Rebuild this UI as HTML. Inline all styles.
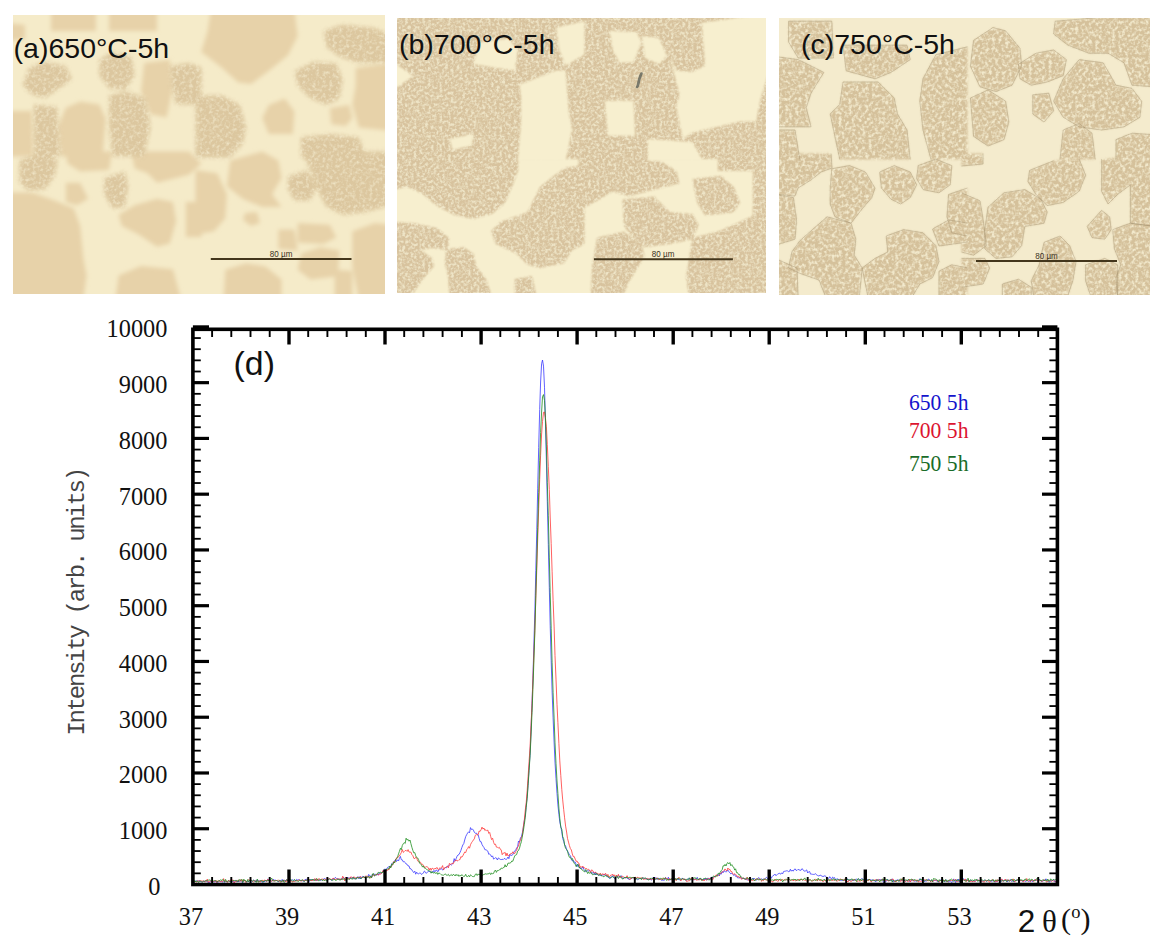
<!DOCTYPE html>
<html><head><meta charset="utf-8"><style>
html,body{margin:0;padding:0;background:#fff}
body{width:1163px;height:947px;position:relative;overflow:hidden}
.ml{position:absolute;font-family:"Liberation Sans",sans-serif;font-size:28.5px;color:#111;white-space:nowrap;line-height:1}
.tl{font-family:"Liberation Serif",serif;font-size:25.5px;fill:#111}
.lg{font-family:"Liberation Serif",serif;font-size:23px}
.yl{font-family:"Liberation Mono",monospace;font-size:24px;fill:#444}
</style></head><body>
<div style="position:absolute;left:13px;top:15px;width:372px;height:279px;background:#f5ebc9;overflow:hidden">
<svg width="372" height="279" style="position:absolute;left:0;top:0">
<defs><filter id="fa" filterUnits="userSpaceOnUse" x="-10" y="-10" width="392" height="299" color-interpolation-filters="sRGB"><feGaussianBlur in="SourceGraphic" stdDeviation="2.0" result="b"/><feTurbulence type="fractalNoise" baseFrequency="0.3" numOctaves="2" seed="2" result="n"/><feColorMatrix in="n" type="matrix" values="0 0 0 0 0.933  0 0 0 0 0.886  0 0 0 0 0.761  2.40 0 0 0 -1.05" result="sp"/><feGaussianBlur in="sp" stdDeviation="0.45" result="spb"/><feComposite in="spb" in2="b" operator="atop"/></filter><filter id="ga" filterUnits="userSpaceOnUse" x="-10" y="-10" width="392" height="299"><feGaussianBlur stdDeviation="2.0"/></filter></defs>
<g filter="url(#ga)">
<polygon points="38.0,-5.0 83.0,-5.0 83.0,16.0 38.0,16.0" fill="#e7d2a9"/>
<polygon points="96.0,-5.0 144.0,-5.0 144.0,16.0 96.0,16.0" fill="#e7d2a9"/>
<polygon points="131.2,48.0 156.8,44.8 160.0,72.0 153.6,102.4 137.6,99.2 128.0,76.8" fill="#e7d2a9"/>
<polygon points="52.8,92.8 67.2,86.4 86.4,89.6 92.8,104.0 89.6,141.5 48.0,141.5 44.8,112.0" fill="#e7d2a9"/>
<polygon points="-5.0,96.0 19.0,96.0 20.0,141.5 -5.0,141.5" fill="#e7d2a9"/>
<polygon points="-5.0,8.0 12.0,10.0 12.0,24.0 -5.0,26.0" fill="#e7d2a9"/>
<polygon points="197.9,-5.0 281.5,-5.0 284.7,20.9 275.0,40.2 257.3,54.7 238.1,69.1 225.2,67.5 209.1,53.1 194.6,41.8 188.2,37.0 194.6,16.1" fill="#e7d2a9"/>
<polygon points="342.6,53.1 377.0,48.2 377.0,115.8 345.8,112.5 339.3,90.0 342.6,70.7" fill="#e7d2a9"/>
<polygon points="255.7,90.0 271.8,83.6 281.5,96.5 279.9,119.0 255.7,119.0 249.3,102.9" fill="#e7d2a9"/>
<polygon points="316.8,93.2 336.1,90.0 339.3,102.9 332.9,110.9 318.4,109.3" fill="#e7d2a9"/>
<polygon points="-5.0,177.4 19.2,177.4 41.6,185.4 60.8,193.4 67.2,211.0 70.4,243.0 73.6,260.6 70.4,284.0 -5.0,284.0" fill="#e7d2a9"/>
<polygon points="52.8,167.8 67.2,167.8 75.2,183.8 64.0,190.2 52.8,187.0" fill="#e7d2a9"/>
<polygon points="52.8,136.5 99.2,136.5 96.0,155.0 67.2,156.6 54.4,148.6" fill="#e7d2a9"/>
<polygon points="118.4,136.5 176.0,136.5 188.5,148.6 176.0,159.8 144.0,167.8 134.4,158.2 121.6,153.4" fill="#e7d2a9"/>
<polygon points="105.6,199.8 121.6,190.2 144.0,183.8 160.0,187.0 163.2,206.2 156.8,228.6 144.0,231.8 124.8,219.0 108.8,211.0" fill="#e7d2a9"/>
<polygon points="172.8,187.0 188.5,187.0 188.5,222.0 172.8,222.0" fill="#e7d2a9"/>
<polygon points="105.6,260.6 128.0,251.0 160.0,254.2 168.0,284.0 102.4,284.0" fill="#e7d2a9"/>
<polygon points="182.5,155.1 204.3,158.3 213.9,179.2 212.3,203.3 201.1,216.2 182.5,219.4" fill="#e7d2a9"/>
<polygon points="217.2,145.4 249.3,136.5 265.4,145.4 268.6,163.1 259.0,179.2 268.6,192.1 249.3,192.1 230.0,184.0 213.9,171.2" fill="#e7d2a9"/>
<polygon points="232.0,198.0 244.0,197.0 247.0,208.0 238.0,211.0 230.0,205.0" fill="#e7d2a9"/>
<polygon points="265.4,214.6 281.5,214.6 284.7,235.5 265.4,233.9" fill="#e7d2a9"/>
<polygon points="284.7,208.1 316.8,209.7 323.3,222.6 310.4,229.0 284.7,227.4" fill="#e7d2a9"/>
<polygon points="339.3,216.2 361.9,208.1 377.0,209.7 377.0,284.0 345.8,284.0 339.3,251.5" fill="#e7d2a9"/>
<polygon points="287.9,238.7 307.2,232.2 326.5,235.5 324.9,261.2 297.5,264.4 284.7,254.8" fill="#e7d2a9"/>
<polygon points="212.3,254.8 233.2,248.3 252.5,251.5 268.6,264.4 268.6,284.0 210.7,284.0" fill="#e7d2a9"/>
<polygon points="321.7,254.8 339.3,256.0 339.3,284.0 321.7,284.0" fill="#e7d2a9"/>
</g>
<g filter="url(#fa)">
<polygon points="16.0,52.8 32.0,46.4 52.8,51.2 59.2,64.0 48.0,72.0 32.0,83.2 19.2,80.0 9.6,70.4" fill="#dcc79f"/>
<polygon points="86.4,44.8 99.2,36.8 118.4,41.6 121.6,60.8 112.0,75.2 96.0,73.6 86.4,60.8" fill="#dcc79f"/>
<polygon points="156.8,51.2 176.0,48.0 188.5,52.8 188.5,89.6 163.2,89.6 158.4,72.0" fill="#dcc79f"/>
<polygon points="96.0,80.0 115.2,76.8 132.8,83.2 137.6,112.0 131.2,141.5 99.2,141.5 96.0,112.0" fill="#dcc79f"/>
<polygon points="20.8,89.6 44.0,92.0 48.0,141.5 20.8,141.5" fill="#dcc79f"/>
<polygon points="281.5,56.3 300.8,46.6 323.3,48.2 329.7,64.3 326.5,83.6 313.6,90.0 297.5,83.6 284.7,70.7" fill="#dcc79f"/>
<polygon points="310.4,16.1 329.7,9.6 361.9,12.9 377.0,19.3 377.0,48.2 345.8,48.2 326.5,41.8 313.6,32.2" fill="#dcc79f"/>
<polygon points="182.5,80.4 209.1,80.4 226.8,90.0 233.2,112.5 230.0,128.6 217.2,142.5 182.5,142.5" fill="#dcc79f"/>
<polygon points="287.9,122.2 316.8,119.0 345.8,122.2 353.8,142.5 287.9,142.5" fill="#dcc79f"/>
<polygon points="6.4,145.4 28.8,136.5 44.8,145.4 41.6,161.4 32.0,174.2 16.0,175.8 6.4,167.8" fill="#dcc79f"/>
<polygon points="91.2,163.0 112.0,156.6 115.2,171.0 112.0,191.8 99.2,193.4 91.2,179.0" fill="#dcc79f"/>
<polygon points="275.0,161.5 294.3,155.1 303.9,171.2 297.5,185.6 281.5,185.6 275.0,174.4" fill="#dcc79f"/>
<polygon points="287.9,136.5 377.0,136.5 377.0,190.4 353.8,196.9 329.7,200.1 313.6,192.1 304.0,174.4 297.5,155.1" fill="#dcc79f"/>
</g>
<g filter="url(#ga)">
</g>

<line x1="197.8" y1="244.0" x2="338.5" y2="244.0" stroke="#43361c" stroke-width="2"/>
<text x="268.1" y="241.8" text-anchor="middle" font-family="Liberation Sans" font-size="9.3" fill="#3a3222" textLength="22.5" lengthAdjust="spacingAndGlyphs">80 µm</text>
</svg>
<div class="ml" style="left:0.6px;top:18.9px">(a)650°C-5h</div>
</div>
<div style="position:absolute;left:397px;top:18px;width:369px;height:275px;background:#f7efcf;overflow:hidden">
<svg width="369" height="275" style="position:absolute;left:0;top:0">
<defs><filter id="fb" filterUnits="userSpaceOnUse" x="-10" y="-10" width="389" height="295" color-interpolation-filters="sRGB"><feGaussianBlur in="SourceGraphic" stdDeviation="1.2" result="b"/><feTurbulence type="fractalNoise" baseFrequency="0.35" numOctaves="2" seed="4" result="n"/><feColorMatrix in="n" type="matrix" values="0 0 0 0 0.933  0 0 0 0 0.894  0 0 0 0 0.776  3.00 0 0 0 -1.20" result="sp"/><feGaussianBlur in="sp" stdDeviation="0.45" result="spb"/><feComposite in="spb" in2="b" operator="atop"/></filter><filter id="gb" filterUnits="userSpaceOnUse" x="-10" y="-10" width="389" height="295"><feGaussianBlur stdDeviation="1.2"/></filter></defs>
<g filter="url(#gb)">
</g>
<g filter="url(#fb)">
<polygon points="-5.0,-5.0 374.0,-5.0 374.0,141.0 -5.0,141.0" fill="#d8c39e"/>
<polygon points="-5.0,134.5 122.0,134.5 121.0,153.0 115.0,169.0 108.0,185.0 95.0,196.0 76.0,201.0 57.0,197.0 40.0,188.0 24.0,175.0 10.0,169.0 -5.0,172.0" fill="#d8c39e"/>
<polygon points="-5.0,204.0 16.0,205.0 40.0,210.0 52.0,220.0 51.0,232.0 35.0,230.0 24.0,232.0 35.0,240.0 37.0,248.0 24.0,264.0 13.0,280.0 -5.0,280.0" fill="#d8c39e"/>
<polygon points="49.3,230.9 66.8,229.3 76.4,235.6 79.5,248.4 89.1,261.1 95.4,280.0 52.5,280.0 50.9,257.9 47.7,245.2" fill="#d8c39e"/>
<polygon points="93.9,213.4 103.4,203.8 130.4,194.3 143.2,168.8 159.1,156.1 168.6,149.7 187.5,146.5 187.5,226.1 175.0,232.5 167.0,245.2 143.2,250.0 130.4,246.8 119.3,235.6 98.6,226.1" fill="#d8c39e"/>
<polygon points="117.7,261.1 135.2,257.9 140.0,280.0 117.7,280.0" fill="#d8c39e"/>
<polygon points="181.5,134.5 250.8,134.5 279.4,152.9 282.6,165.6 255.6,172.0 231.7,178.4 215.8,173.6 196.7,184.7 181.5,192.7" fill="#d8c39e"/>
<polygon points="225.4,181.5 257.2,178.4 273.1,194.3 295.4,195.9 301.7,207.0 295.4,221.3 273.1,226.1 247.6,229.3 236.5,219.7 227.0,208.6" fill="#d8c39e"/>
<polygon points="199.9,219.7 227.0,213.4 244.5,226.1 247.6,238.8 239.7,251.5 231.7,264.3 225.4,280.0 193.5,280.0 195.1,248.4" fill="#d8c39e"/>
<polygon points="295.4,160.9 324.0,157.7 336.7,168.8 343.1,184.7 336.7,194.3 322.4,195.9 308.1,197.5 300.1,184.7" fill="#d8c39e"/>
<polygon points="295.4,219.7 320.8,213.4 343.1,203.8 355.8,197.5 359.0,232.5 362.2,280.0 292.2,280.0 289.0,257.9" fill="#d8c39e"/>
<polygon points="355.8,134.5 374.0,134.5 374.0,280.0 355.8,280.0" fill="#d8c39e"/>
<polygon points="320.8,134.5 355.8,134.5 355.8,153.0 320.8,153.0" fill="#d8c39e"/>
</g>
<g filter="url(#gb)">
<polygon points="-5.0,43.0 16.0,58.0 -5.0,73.0" fill="#f7efcf"/>
<polygon points="76.4,46.1 82.7,23.9 111.4,20.7 120.9,31.8 117.7,52.5 95.4,49.3" fill="#f7efcf"/>
<polygon points="122.5,66.8 159.1,52.5 168.6,52.5 171.8,95.4 175.0,111.4 168.6,143.0 120.9,143.0 124.1,103.4 124.1,79.5" fill="#f7efcf"/>
<polygon points="159.1,9.5 187.5,3.2 187.5,36.6 168.6,47.7 162.3,31.8" fill="#f7efcf"/>
<polygon points="52.5,120.9 76.4,116.1 74.8,127.3 55.7,132.0" fill="#f7efcf"/>
<polygon points="212.6,12.7 239.7,14.3 244.5,23.9 236.5,44.5 222.2,44.5 215.8,31.8" fill="#f7efcf"/>
<polygon points="273.1,39.8 279.4,52.5 295.4,54.1 308.1,47.7 304.9,4.8 374.0,-5.0 374.0,47.7 363.8,79.5 359.0,103.4 343.1,103.4 295.4,114.5 285.8,120.9 279.4,89.1 282.6,76.4" fill="#f7efcf"/>
<polygon points="207.9,82.7 236.5,82.7 238.1,117.7 211.0,117.7" fill="#f7efcf"/>
<polygon points="250.8,120.9 295.4,124.1 306.0,143.0 250.8,143.0" fill="#f7efcf"/>
<polygon points="245.0,18.0 262.0,20.0 270.0,38.0 262.0,46.0 248.0,40.0" fill="#f7efcf"/>
</g>
<path d="M244.5 55.5 Q242 60 241 67.5 L240 69" stroke="#66685e" stroke-width="2.6" stroke-linecap="round" fill="none" opacity="0.85"/>
<line x1="196.9" y1="241.2" x2="335.9" y2="241.2" stroke="#43361c" stroke-width="2"/>
<text x="266.1" y="238.7" text-anchor="middle" font-family="Liberation Sans" font-size="9.3" fill="#3a3222" textLength="22.5" lengthAdjust="spacingAndGlyphs">80 µm</text>
</svg>
<div class="ml" style="left:2.0px;top:12.0px">(b)700°C-5h</div>
</div>
<div style="position:absolute;left:779px;top:18px;width:371px;height:277px;background:#f4ebcd;overflow:hidden">
<svg width="371" height="277" style="position:absolute;left:0;top:0">
<defs><filter id="fc" filterUnits="userSpaceOnUse" x="-10" y="-10" width="391" height="297" color-interpolation-filters="sRGB"><feGaussianBlur in="SourceGraphic" stdDeviation="1.2" result="b"/><feTurbulence type="fractalNoise" baseFrequency="0.3 0.3" numOctaves="2" seed="9" result="n"/><feColorMatrix in="n" type="matrix" values="0 0 0 0 0.949  0 0 0 0 0.914  0 0 0 0 0.800  3.00 0 0 0 -1.25" result="sp"/><feGaussianBlur in="sp" stdDeviation="0.45" result="spb"/><feComposite in="spb" in2="b" operator="atop"/></filter><filter id="gc" filterUnits="userSpaceOnUse" x="-10" y="-10" width="391" height="297"><feGaussianBlur stdDeviation="1.2"/></filter></defs>
<g filter="url(#gc)">
</g>
<g filter="url(#fc)">
<polygon points="9.6,3.2 52.8,3.2 54.4,40.0 19.2,40.0 9.6,24.0" fill="#d5c19b"/>
<polygon points="64.0,27.2 128.0,27.2 131.2,41.6 112.0,54.4 96.0,60.8 67.2,52.8" fill="#d5c19b"/>
<polygon points="-5.0,38.4 19.2,41.6 44.8,54.4 32.0,75.2 27.2,89.6 32.0,108.8 -5.0,108.8" fill="#d5c19b"/>
<polygon points="64.0,64.0 99.2,64.0 115.2,80.0 118.4,96.0 128.0,112.0 131.2,141.5 60.8,141.5 51.2,96.0 60.8,86.4" fill="#d5c19b"/>
<polygon points="156.8,36.8 188.5,28.8 188.5,141.5 152.0,141.5 144.0,112.0 140.8,83.2 144.0,60.8" fill="#d5c19b"/>
<polygon points="-5.0,112.0 16.0,112.0 20.8,141.5 -5.0,141.5" fill="#d5c19b"/>
<polygon points="194.6,22.4 213.8,9.6 226.6,12.8 241.0,30.4 242.6,48.0 233.0,67.2 217.0,73.6 201.0,68.8 191.4,48.0" fill="#d5c19b"/>
<polygon points="239.4,46.4 257.0,35.2 274.6,32.0 287.4,41.6 284.2,57.6 268.2,64.0 252.2,67.2 241.0,60.8" fill="#d5c19b"/>
<polygon points="276.2,3.2 376.0,-5.0 376.0,68.8 353.0,67.2 345.0,44.8 329.0,35.2 309.8,35.2 289.0,27.2 274.6,16.0" fill="#d5c19b"/>
<polygon points="284.2,60.8 300.2,41.6 324.2,44.8 337.0,67.2 353.0,70.4 362.6,83.2 361.0,99.2 345.0,108.8 322.6,112.0 300.2,108.8 284.2,99.2 274.6,83.2" fill="#d5c19b"/>
<polygon points="191.4,80.0 209.0,72.0 226.6,83.2 229.8,104.0 225.0,121.6 209.0,128.0 194.6,118.4" fill="#d5c19b"/>
<polygon points="337.0,121.6 353.0,115.2 376.0,116.8 376.0,141.5 337.0,141.5" fill="#d5c19b"/>
<polygon points="284.2,112.0 300.2,105.6 313.0,115.2 316.2,141.5 281.0,141.5" fill="#d5c19b"/>
<polygon points="253.8,76.8 269.8,75.2 274.6,92.8 265.0,104.0 253.8,96.0" fill="#d5c19b"/>
<polygon points="-5.0,135.5 52.0,135.5 53.0,150.0 42.0,154.0 32.0,162.0 19.0,170.0 16.0,178.0 -5.0,176.0" fill="#d5c19b"/>
<polygon points="52.8,150.8 70.4,147.6 86.4,154.0 96.0,170.0 92.8,179.6 83.2,190.8 72.0,205.2 56.0,198.8 51.2,186.0 51.2,170.0" fill="#d5c19b"/>
<polygon points="-5.0,176.4 14.4,179.6 17.6,202.0 16.0,221.2 -5.0,227.6" fill="#d5c19b"/>
<polygon points="20.8,222.8 48.0,198.8 72.0,205.2 76.8,221.2 75.2,237.2 83.2,250.0 80.0,282.0 48.0,282.0 40.0,262.0 20.0,255.0 9.6,250.0 12.8,234.0" fill="#d5c19b"/>
<polygon points="-5.0,240.0 18.0,250.0 19.2,282.0 -5.0,282.0" fill="#d5c19b"/>
<polygon points="100.8,154.0 115.2,147.6 131.2,154.0 137.6,166.8 131.2,179.6 121.6,186.0 112.0,181.2 102.4,170.0" fill="#d5c19b"/>
<polygon points="139.2,147.6 156.8,141.2 172.8,147.6 171.2,166.8 160.0,174.8 144.0,171.6 137.6,160.4" fill="#d5c19b"/>
<polygon points="169.6,176.4 188.5,170.0 188.5,218.0 172.8,214.8 168.0,198.8" fill="#d5c19b"/>
<polygon points="107.2,218.0 124.8,211.6 144.0,214.8 156.8,227.6 160.0,243.6 153.6,259.6 140.8,266.0 131.2,282.0 89.6,282.0 83.2,250.0 96.0,240.4 108.8,234.0" fill="#d5c19b"/>
<polygon points="160.0,253.2 172.8,246.8 188.5,250.0 188.5,282.0 160.0,282.0" fill="#d5c19b"/>
<polygon points="153.6,211.0 169.6,202.0 188.5,205.0 188.5,224.0 160.0,228.0" fill="#d5c19b"/>
<polygon points="250.6,152.4 274.6,142.8 300.2,141.2 306.6,157.2 300.2,173.2 284.2,184.4 268.2,187.6 257.0,176.4 249.0,163.6" fill="#d5c19b"/>
<polygon points="209.0,189.2 225.0,174.8 245.8,171.6 261.8,181.2 268.2,194.0 265.0,205.2 245.8,208.4 242.6,227.6 233.0,238.8 217.0,240.4 205.8,230.8 205.8,211.6" fill="#d5c19b"/>
<polygon points="182.5,174.8 201.0,182.8 204.2,202.0 207.4,227.6 194.6,237.2 182.5,234.0" fill="#d5c19b"/>
<polygon points="182.5,240.4 205.8,240.4 210.6,250.0 204.2,266.0 182.5,269.2" fill="#d5c19b"/>
<polygon points="322.6,141.2 376.0,135.5 376.0,208.4 351.4,205.2 351.4,166.8 338.6,176.4 329.0,186.0 322.6,173.2" fill="#d5c19b"/>
<polygon points="308.2,208.4 322.6,192.4 330.6,198.8 332.2,211.6 325.8,221.2 313.0,219.6" fill="#d5c19b"/>
<polygon points="333.8,211.6 351.4,205.2 376.0,208.4 376.0,282.0 338.6,282.0 337.0,259.6 341.8,246.8 335.4,230.8" fill="#d5c19b"/>
<polygon points="265.0,224.4 281.0,218.0 290.6,227.6 297.0,243.6 293.8,262.8 287.4,282.0 255.4,282.0 252.2,262.8 260.2,246.8" fill="#d5c19b"/>
<polygon points="306.6,246.8 325.8,240.4 338.6,246.8 338.6,282.0 313.0,282.0 306.6,262.8" fill="#d5c19b"/>
<polygon points="223.4,266.0 239.4,261.2 252.2,269.2 252.2,282.0 223.4,282.0" fill="#d5c19b"/>
<polygon points="182.5,135.5 204.0,135.5 204.0,146.0 182.5,148.0" fill="#d5c19b"/>
</g>
<g filter="url(#gc)">
</g>
<g fill="none" stroke="#9c8866" stroke-width="0.7" stroke-opacity="0.55" stroke-linejoin="round">
<path d="M9.6 3.2L52.8 3.2M52.8 3.2L54.4 40.0M54.4 40.0L19.2 40.0M19.2 40.0L9.6 24.0M9.6 24.0L9.6 3.2M64.0 27.2L128.0 27.2M128.0 27.2L131.2 41.6M131.2 41.6L112.0 54.4M112.0 54.4L96.0 60.8M96.0 60.8L67.2 52.8M67.2 52.8L64.0 27.2M-5.0 38.4L19.2 41.6M19.2 41.6L44.8 54.4M44.8 54.4L32.0 75.2M32.0 75.2L27.2 89.6M27.2 89.6L32.0 108.8M32.0 108.8L-5.0 108.8M64.0 64.0L99.2 64.0M99.2 64.0L115.2 80.0M115.2 80.0L118.4 96.0M118.4 96.0L128.0 112.0M128.0 112.0L131.2 141.5M60.8 141.5L51.2 96.0M51.2 96.0L60.8 86.4M60.8 86.4L64.0 64.0M156.8 36.8L188.5 28.8M152.0 141.5L144.0 112.0M144.0 112.0L140.8 83.2M140.8 83.2L144.0 60.8M144.0 60.8L156.8 36.8M-5.0 112.0L16.0 112.0M16.0 112.0L20.8 141.5M194.6 22.4L213.8 9.6M213.8 9.6L226.6 12.8M226.6 12.8L241.0 30.4M241.0 30.4L242.6 48.0M242.6 48.0L233.0 67.2M233.0 67.2L217.0 73.6M217.0 73.6L201.0 68.8M201.0 68.8L191.4 48.0M191.4 48.0L194.6 22.4M239.4 46.4L257.0 35.2M257.0 35.2L274.6 32.0M274.6 32.0L287.4 41.6M287.4 41.6L284.2 57.6M284.2 57.6L268.2 64.0M268.2 64.0L252.2 67.2M252.2 67.2L241.0 60.8M241.0 60.8L239.4 46.4M276.2 3.2L376.0 -5.0M376.0 68.8L353.0 67.2M353.0 67.2L345.0 44.8M345.0 44.8L329.0 35.2M329.0 35.2L309.8 35.2M309.8 35.2L289.0 27.2M289.0 27.2L274.6 16.0M274.6 16.0L276.2 3.2M284.2 60.8L300.2 41.6M300.2 41.6L324.2 44.8M324.2 44.8L337.0 67.2M337.0 67.2L353.0 70.4M353.0 70.4L362.6 83.2M362.6 83.2L361.0 99.2M361.0 99.2L345.0 108.8M345.0 108.8L322.6 112.0M322.6 112.0L300.2 108.8M300.2 108.8L284.2 99.2M284.2 99.2L274.6 83.2M274.6 83.2L284.2 60.8M191.4 80.0L209.0 72.0M209.0 72.0L226.6 83.2M226.6 83.2L229.8 104.0M229.8 104.0L225.0 121.6M225.0 121.6L209.0 128.0M209.0 128.0L194.6 118.4M194.6 118.4L191.4 80.0M337.0 121.6L353.0 115.2M353.0 115.2L376.0 116.8M337.0 141.5L337.0 121.6M284.2 112.0L300.2 105.6M300.2 105.6L313.0 115.2M313.0 115.2L316.2 141.5M281.0 141.5L284.2 112.0M253.8 76.8L269.8 75.2M269.8 75.2L274.6 92.8M274.6 92.8L265.0 104.0M265.0 104.0L253.8 96.0M253.8 96.0L253.8 76.8M52.0 135.5L53.0 150.0M53.0 150.0L42.0 154.0M42.0 154.0L32.0 162.0M32.0 162.0L19.0 170.0M19.0 170.0L16.0 178.0M16.0 178.0L-5.0 176.0M52.8 150.8L70.4 147.6M70.4 147.6L86.4 154.0M86.4 154.0L96.0 170.0M96.0 170.0L92.8 179.6M92.8 179.6L83.2 190.8M83.2 190.8L72.0 205.2M72.0 205.2L56.0 198.8M56.0 198.8L51.2 186.0M51.2 186.0L51.2 170.0M51.2 170.0L52.8 150.8M-5.0 176.4L14.4 179.6M14.4 179.6L17.6 202.0M17.6 202.0L16.0 221.2M16.0 221.2L-5.0 227.6M20.8 222.8L48.0 198.8M48.0 198.8L72.0 205.2M72.0 205.2L76.8 221.2M76.8 221.2L75.2 237.2M75.2 237.2L83.2 250.0M83.2 250.0L80.0 282.0M48.0 282.0L40.0 262.0M40.0 262.0L20.0 255.0M20.0 255.0L9.6 250.0M9.6 250.0L12.8 234.0M12.8 234.0L20.8 222.8M-5.0 240.0L18.0 250.0M18.0 250.0L19.2 282.0M100.8 154.0L115.2 147.6M115.2 147.6L131.2 154.0M131.2 154.0L137.6 166.8M137.6 166.8L131.2 179.6M131.2 179.6L121.6 186.0M121.6 186.0L112.0 181.2M112.0 181.2L102.4 170.0M102.4 170.0L100.8 154.0M139.2 147.6L156.8 141.2M156.8 141.2L172.8 147.6M172.8 147.6L171.2 166.8M171.2 166.8L160.0 174.8M160.0 174.8L144.0 171.6M144.0 171.6L137.6 160.4M137.6 160.4L139.2 147.6M169.6 176.4L188.5 170.0M188.5 218.0L172.8 214.8M172.8 214.8L168.0 198.8M168.0 198.8L169.6 176.4M107.2 218.0L124.8 211.6M124.8 211.6L144.0 214.8M144.0 214.8L156.8 227.6M156.8 227.6L160.0 243.6M160.0 243.6L153.6 259.6M153.6 259.6L140.8 266.0M140.8 266.0L131.2 282.0M89.6 282.0L83.2 250.0M83.2 250.0L96.0 240.4M96.0 240.4L108.8 234.0M108.8 234.0L107.2 218.0M160.0 253.2L172.8 246.8M172.8 246.8L188.5 250.0M160.0 282.0L160.0 253.2M153.6 211.0L169.6 202.0M169.6 202.0L188.5 205.0M188.5 224.0L160.0 228.0M160.0 228.0L153.6 211.0M250.6 152.4L274.6 142.8M300.2 141.2L306.6 157.2M306.6 157.2L300.2 173.2M300.2 173.2L284.2 184.4M284.2 184.4L268.2 187.6M268.2 187.6L257.0 176.4M257.0 176.4L249.0 163.6M249.0 163.6L250.6 152.4M209.0 189.2L225.0 174.8M225.0 174.8L245.8 171.6M245.8 171.6L261.8 181.2M261.8 181.2L268.2 194.0M268.2 194.0L265.0 205.2M265.0 205.2L245.8 208.4M245.8 208.4L242.6 227.6M242.6 227.6L233.0 238.8M233.0 238.8L217.0 240.4M217.0 240.4L205.8 230.8M205.8 230.8L205.8 211.6M205.8 211.6L209.0 189.2M182.5 174.8L201.0 182.8M201.0 182.8L204.2 202.0M204.2 202.0L207.4 227.6M207.4 227.6L194.6 237.2M194.6 237.2L182.5 234.0M182.5 240.4L205.8 240.4M205.8 240.4L210.6 250.0M210.6 250.0L204.2 266.0M204.2 266.0L182.5 269.2M376.0 208.4L351.4 205.2M351.4 205.2L351.4 166.8M351.4 166.8L338.6 176.4M338.6 176.4L329.0 186.0M329.0 186.0L322.6 173.2M322.6 173.2L322.6 141.2M308.2 208.4L322.6 192.4M322.6 192.4L330.6 198.8M330.6 198.8L332.2 211.6M332.2 211.6L325.8 221.2M325.8 221.2L313.0 219.6M313.0 219.6L308.2 208.4M333.8 211.6L351.4 205.2M351.4 205.2L376.0 208.4M338.6 282.0L337.0 259.6M337.0 259.6L341.8 246.8M341.8 246.8L335.4 230.8M335.4 230.8L333.8 211.6M265.0 224.4L281.0 218.0M281.0 218.0L290.6 227.6M290.6 227.6L297.0 243.6M297.0 243.6L293.8 262.8M293.8 262.8L287.4 282.0M255.4 282.0L252.2 262.8M252.2 262.8L260.2 246.8M260.2 246.8L265.0 224.4M306.6 246.8L325.8 240.4M325.8 240.4L338.6 246.8M338.6 246.8L338.6 282.0M313.0 282.0L306.6 262.8M306.6 262.8L306.6 246.8M223.4 266.0L239.4 261.2M239.4 261.2L252.2 269.2M252.2 269.2L252.2 282.0M223.4 282.0L223.4 266.0M204.0 135.5L204.0 146.0M204.0 146.0L182.5 148.0"/>
</g>

<line x1="197.0" y1="243.1" x2="338.0" y2="243.1" stroke="#43361c" stroke-width="2"/>
<text x="267.5" y="240.5" text-anchor="middle" font-family="Liberation Sans" font-size="9.3" fill="#3a3222" textLength="22.5" lengthAdjust="spacingAndGlyphs">80 µm</text>
</svg>
<div class="ml" style="left:22.0px;top:12.0px">(c)750°C-5h</div>
</div>
<svg width="1163" height="947" style="position:absolute;left:0;top:0">
<path d="M192.9 882.6 193.9 882.7 194.8 881.7 195.8 881.1 196.7 880.8 197.7 881.7 198.7 880.9 199.6 880.6 200.6 881.8 201.5 881.7 202.5 882.0 203.5 880.9 204.4 881.6 205.4 881.5 206.3 880.5 207.3 882.0 208.3 881.8 209.2 883.4 210.2 881.7 211.2 881.5 212.1 882.5 213.1 881.7 214.0 882.2 215.0 881.3 216.0 881.7 216.9 882.3 217.9 882.1 218.8 881.6 219.8 880.7 220.8 881.9 221.7 881.6 222.7 882.0 223.6 881.7 224.6 882.3 225.6 881.5 226.5 881.6 227.5 882.0 228.4 880.7 229.4 881.2 230.4 881.1 231.3 882.9 232.3 881.4 233.2 881.9 234.2 881.9 235.2 881.2 236.1 880.3 237.1 882.1 238.0 881.1 239.0 881.9 240.0 880.4 240.9 881.1 241.9 882.3 242.8 882.4 243.8 880.4 244.8 880.4 245.7 881.3 246.7 881.9 247.7 881.4 248.6 881.5 249.6 880.6 250.5 881.7 251.5 882.1 252.5 880.9 253.4 880.2 254.4 880.7 255.3 881.8 256.3 879.9 257.3 881.2 258.2 880.5 259.2 881.1 260.1 881.0 261.1 881.2 262.1 882.3 263.0 881.5 264.0 882.1 264.9 881.0 265.9 880.7 266.9 881.4 267.8 878.9 268.8 881.0 269.7 881.2 270.7 880.1 271.7 881.4 272.6 880.6 273.6 879.1 274.5 880.8 275.5 880.2 276.5 880.5 277.4 880.8 278.4 881.8 279.3 880.9 280.3 880.8 281.3 881.1 282.2 879.4 283.2 881.7 284.2 879.9 285.1 881.1 286.1 879.9 287.0 880.0 288.0 880.4 289.0 882.1 289.9 881.2 290.9 880.1 291.8 880.4 292.8 879.7 293.8 880.5 294.7 880.1 295.7 881.0 296.6 879.4 297.6 880.1 298.6 879.7 299.5 879.8 300.5 880.9 301.4 880.4 302.4 880.7 303.4 881.1 304.3 881.1 305.3 879.1 306.2 880.5 307.2 878.7 308.2 880.0 309.1 881.5 310.1 879.8 311.0 879.6 312.0 880.0 313.0 879.9 313.9 879.8 314.9 879.2 315.9 880.6 316.8 880.4 317.8 879.5 318.7 879.9 319.7 880.1 320.7 880.3 321.6 879.8 322.6 880.0 323.5 879.2 324.5 878.5 325.5 878.9 326.4 880.1 327.4 880.0 328.3 879.3 329.3 878.7 330.3 879.3 331.2 880.3 332.2 880.0 333.1 878.4 334.1 878.8 335.1 877.6 336.0 877.8 337.0 878.8 337.9 878.7 338.9 879.4 339.9 879.5 340.8 879.1 341.8 879.5 342.7 877.9 343.7 877.4 344.7 878.6 345.6 880.4 346.6 878.4 347.5 877.1 348.5 878.2 349.5 879.1 350.4 877.0 351.4 878.5 352.4 877.3 353.3 878.8 354.3 878.3 355.2 877.8 356.2 879.2 357.2 877.1 358.1 876.8 359.1 878.9 360.0 876.5 361.0 879.0 362.0 877.1 362.9 876.2 363.9 876.9 364.8 877.0 365.8 876.9 366.8 876.5 367.7 877.4 368.7 874.4 369.6 875.8 370.6 875.9 371.6 877.4 372.5 874.0 373.5 875.2 374.4 874.2 375.4 874.3 376.4 875.1 377.3 874.5 378.3 875.0 379.2 872.8 380.2 873.1 381.2 873.3 382.1 872.5 383.1 870.7 384.1 871.4 385.0 868.8 386.0 870.5 386.9 868.2 387.9 867.2 388.9 866.7 389.8 866.4 390.8 866.5 391.7 863.8 392.7 862.8 393.7 863.1 394.6 860.9 395.6 859.5 396.5 861.5 397.5 859.8 398.5 861.0 399.4 858.5 400.4 856.4 401.3 859.7 402.3 859.8 403.3 861.9 404.2 861.6 405.2 862.5 406.1 864.0 407.1 864.3 408.1 866.0 409.0 865.9 410.0 868.9 410.9 868.7 411.9 869.9 412.9 871.7 413.8 872.5 414.8 871.2 415.7 874.2 416.7 872.2 417.7 873.6 418.6 873.8 419.6 873.1 420.6 873.1 421.5 874.5 422.5 873.6 423.4 873.1 424.4 871.0 425.4 871.9 426.3 873.4 427.3 872.4 428.2 871.3 429.2 871.4 430.2 871.6 431.1 872.3 432.1 871.9 433.0 872.2 434.0 870.4 435.0 871.8 435.9 870.2 436.9 870.2 437.8 871.8 438.8 870.0 439.8 869.5 440.7 869.1 441.7 868.6 442.6 870.1 443.6 869.5 444.6 868.5 445.5 867.5 446.5 867.8 447.4 866.2 448.4 866.1 449.4 865.4 450.3 864.3 451.3 865.1 452.2 864.3 453.2 862.9 454.2 858.6 455.1 861.2 456.1 858.7 457.1 856.1 458.0 855.0 459.0 854.5 459.9 852.7 460.9 850.4 461.9 847.4 462.8 845.0 463.8 843.5 464.7 840.0 465.7 836.6 466.7 834.6 467.6 833.1 468.6 831.8 469.5 832.8 470.5 827.6 471.5 829.5 472.4 829.0 473.4 830.1 474.3 832.2 475.3 833.3 476.3 833.0 477.2 834.2 478.2 834.9 479.1 838.3 480.1 841.6 481.1 841.7 482.0 844.5 483.0 846.2 483.9 847.4 484.9 849.7 485.9 849.8 486.8 850.3 487.8 851.1 488.8 854.4 489.7 854.0 490.7 854.9 491.6 856.9 492.6 855.9 493.6 859.1 494.5 858.5 495.5 857.7 496.4 858.0 497.4 860.0 498.4 857.9 499.3 858.6 500.3 859.4 501.2 859.6 502.2 859.3 503.2 859.6 504.1 858.6 505.1 858.6 506.0 859.7 507.0 858.7 508.0 857.0 508.9 858.7 509.9 854.2 510.8 855.6 511.8 855.3 512.8 854.7 513.7 852.6 514.7 850.8 515.6 850.4 516.6 848.0 517.6 846.9 518.5 841.0 519.5 842.2 520.4 838.0 521.4 836.7 522.4 832.6 523.3 827.8 524.3 820.8 525.3 815.0 526.2 805.7 527.2 796.3 528.1 783.6 529.1 767.9 530.1 753.7 531.0 731.2 532.0 703.4 532.9 678.8 533.9 644.0 534.9 609.9 535.8 570.7 536.8 529.8 537.7 488.8 538.7 447.5 539.7 409.5 540.6 382.0 541.6 363.8 542.5 360.0 543.5 366.1 544.5 387.2 545.4 420.5 546.4 460.9 547.3 501.4 548.3 544.4 549.3 587.3 550.2 625.3 551.2 660.7 552.1 690.9 553.1 717.9 554.1 742.0 555.0 762.1 556.0 778.5 557.0 793.3 557.9 804.9 558.9 814.3 559.8 821.9 560.8 826.7 561.8 831.7 562.7 838.4 563.7 841.3 564.6 844.6 565.6 846.0 566.6 849.5 567.5 851.2 568.5 852.9 569.4 854.9 570.4 855.6 571.4 858.6 572.3 861.0 573.3 860.3 574.2 862.2 575.2 862.0 576.2 864.7 577.1 866.7 578.1 864.5 579.0 866.2 580.0 868.5 581.0 868.1 581.9 868.5 582.9 867.0 583.8 869.3 584.8 870.7 585.8 871.7 586.7 871.4 587.7 870.6 588.6 870.9 589.6 870.3 590.6 871.3 591.5 873.6 592.5 872.8 593.5 872.0 594.4 874.6 595.4 872.2 596.3 875.0 597.3 873.9 598.3 874.7 599.2 875.2 600.2 875.0 601.1 876.0 602.1 875.1 603.1 875.0 604.0 874.9 605.0 874.4 605.9 875.2 606.9 876.7 607.9 876.8 608.8 877.4 609.8 878.6 610.7 877.0 611.7 877.0 612.7 875.6 613.6 876.6 614.6 878.7 615.5 877.4 616.5 876.9 617.5 877.4 618.4 875.7 619.4 876.6 620.3 876.3 621.3 875.7 622.3 878.2 623.2 878.4 624.2 877.6 625.2 878.1 626.1 877.0 627.1 878.3 628.0 878.6 629.0 879.3 630.0 879.4 630.9 878.5 631.9 878.1 632.8 877.6 633.8 877.8 634.8 878.8 635.7 878.8 636.7 878.5 637.6 879.8 638.6 879.0 639.6 878.6 640.5 878.5 641.5 878.7 642.4 877.9 643.4 877.9 644.4 879.0 645.3 878.3 646.3 878.6 647.2 879.8 648.2 878.7 649.2 880.0 650.1 878.9 651.1 880.2 652.0 879.4 653.0 877.6 654.0 880.0 654.9 878.9 655.9 877.5 656.8 879.2 657.8 879.3 658.8 878.2 659.7 878.7 660.7 879.7 661.7 880.4 662.6 880.2 663.6 880.3 664.5 880.2 665.5 877.4 666.5 878.8 667.4 879.5 668.4 877.2 669.3 880.0 670.3 880.1 671.3 878.8 672.2 879.1 673.2 878.7 674.1 879.4 675.1 879.4 676.1 879.5 677.0 878.7 678.0 879.8 678.9 879.3 679.9 880.3 680.9 879.8 681.8 878.4 682.8 878.4 683.7 879.6 684.7 879.2 685.7 880.0 686.6 880.2 687.6 879.6 688.5 878.3 689.5 878.7 690.5 880.1 691.4 878.8 692.4 880.5 693.3 879.5 694.3 880.0 695.3 878.9 696.2 879.5 697.2 877.3 698.2 879.4 699.1 880.0 700.1 878.9 701.0 878.9 702.0 879.5 703.0 879.6 703.9 878.9 704.9 880.0 705.8 878.1 706.8 880.2 707.8 878.1 708.7 878.4 709.7 880.0 710.6 877.9 711.6 877.2 712.6 878.3 713.5 877.1 714.5 876.5 715.4 876.4 716.4 875.8 717.4 875.1 718.3 874.4 719.3 876.0 720.2 873.4 721.2 874.2 722.2 871.5 723.1 872.8 724.1 870.8 725.0 871.2 726.0 872.2 727.0 871.2 727.9 870.1 728.9 871.8 729.9 872.7 730.8 873.9 731.8 873.1 732.7 874.4 733.7 875.3 734.7 874.5 735.6 876.4 736.6 876.3 737.5 877.8 738.5 877.8 739.5 878.1 740.4 876.6 741.4 878.7 742.3 878.6 743.3 878.3 744.3 878.8 745.2 878.3 746.2 879.5 747.1 879.9 748.1 879.9 749.1 879.0 750.0 880.7 751.0 880.1 751.9 878.6 752.9 879.2 753.9 878.0 754.8 879.2 755.8 879.8 756.7 880.1 757.7 878.7 758.7 877.5 759.6 878.7 760.6 879.8 761.5 878.7 762.5 879.5 763.5 879.0 764.4 879.4 765.4 878.5 766.4 877.3 767.3 878.0 768.3 879.5 769.2 876.7 770.2 875.3 771.2 878.4 772.1 876.7 773.1 875.5 774.0 875.2 775.0 874.1 776.0 875.7 776.9 874.8 777.9 873.8 778.8 873.6 779.8 873.3 780.8 874.2 781.7 872.8 782.7 873.8 783.6 871.5 784.6 871.3 785.6 871.1 786.5 870.8 787.5 870.9 788.4 871.6 789.4 871.5 790.4 869.2 791.3 871.2 792.3 870.0 793.2 871.2 794.2 869.5 795.2 868.9 796.1 870.4 797.1 870.3 798.1 869.3 799.0 869.9 800.0 870.1 800.9 870.4 801.9 868.7 802.9 869.4 803.8 870.8 804.8 871.2 805.7 870.8 806.7 869.9 807.7 873.0 808.6 871.8 809.6 871.5 810.5 874.1 811.5 874.1 812.5 874.3 813.4 874.4 814.4 874.5 815.3 873.5 816.3 874.7 817.3 875.3 818.2 875.8 819.2 876.0 820.1 875.0 821.1 875.6 822.1 876.2 823.0 876.5 824.0 876.2 824.9 875.7 825.9 876.4 826.9 877.9 827.8 877.8 828.8 878.5 829.7 876.7 830.7 878.0 831.7 879.2 832.6 877.1 833.6 877.9 834.6 877.6 835.5 880.0 836.5 879.2 837.4 878.8 838.4 879.5 839.4 879.4 840.3 880.2 841.3 880.5 842.2 880.4 843.2 880.0 844.2 880.4 845.1 880.4 846.1 880.8 847.0 878.5 848.0 880.2 849.0 880.0 849.9 880.1 850.9 879.8 851.8 880.0 852.8 880.5 853.8 880.2 854.7 880.2 855.7 879.3 856.6 879.2 857.6 879.6 858.6 878.8 859.5 879.8 860.5 879.5 861.4 878.8 862.4 878.7 863.4 879.9 864.3 879.8 865.3 881.9 866.2 880.9 867.2 879.7 868.2 879.9 869.1 879.5 870.1 879.7 871.1 880.0 872.0 880.3 873.0 879.8 873.9 880.9 874.9 880.8 875.9 881.8 876.8 879.3 877.8 880.9 878.7 880.1 879.7 879.1 880.7 880.1 881.6 879.1 882.6 880.3 883.5 882.5 884.5 881.4 885.5 881.8 886.4 881.3 887.4 879.2 888.3 880.7 889.3 880.5 890.3 880.7 891.2 879.6 892.2 878.9 893.1 882.0 894.1 881.3 895.1 880.7 896.0 880.1 897.0 880.6 897.9 879.5 898.9 881.2 899.9 880.6 900.8 880.3 901.8 880.1 902.8 880.4 903.7 880.6 904.7 880.2 905.6 881.2 906.6 880.6 907.6 880.4 908.5 879.8 909.5 881.4 910.4 881.5 911.4 881.0 912.4 879.1 913.3 880.2 914.3 881.3 915.2 880.5 916.2 881.5 917.2 880.2 918.1 881.1 919.1 880.9 920.0 878.6 921.0 880.2 922.0 880.3 922.9 880.1 923.9 879.9 924.8 881.8 925.8 880.5 926.8 881.2 927.7 879.5 928.7 879.0 929.6 880.2 930.6 880.9 931.6 880.0 932.5 881.0 933.5 881.2 934.4 880.2 935.4 880.5 936.4 880.0 937.3 881.4 938.3 881.9 939.3 881.0 940.2 880.2 941.2 880.0 942.1 880.4 943.1 881.3 944.1 880.0 945.0 881.7 946.0 879.7 946.9 880.6 947.9 881.6 948.9 882.0 949.8 880.3 950.8 881.2 951.7 882.6 952.7 881.5 953.7 878.9 954.6 880.8 955.6 882.5 956.5 879.7 957.5 881.3 958.5 879.0 959.4 881.9 960.4 880.0 961.3 881.3 962.3 881.3 963.3 878.5 964.2 879.6 965.2 880.9 966.1 879.5 967.1 880.6 968.1 879.9 969.0 881.7 970.0 880.3 971.0 880.0 971.9 881.2 972.9 881.6 973.8 880.6 974.8 880.9 975.8 881.1 976.7 880.3 977.7 879.8 978.6 881.1 979.6 880.4 980.6 879.6 981.5 881.3 982.5 881.0 983.4 880.8 984.4 880.1 985.4 880.5 986.3 881.2 987.3 881.1 988.2 880.1 989.2 880.0 990.2 881.0 991.1 880.9 992.1 881.4 993.0 879.8 994.0 881.4 995.0 882.1 995.9 881.5 996.9 880.8 997.8 881.4 998.8 879.8 999.8 880.4 1000.7 882.3 1001.7 879.5 1002.6 879.9 1003.6 881.4 1004.6 880.2 1005.5 880.3 1006.5 879.9 1007.5 882.0 1008.4 880.3 1009.4 880.5 1010.3 879.4 1011.3 881.4 1012.3 880.8 1013.2 881.1 1014.2 882.0 1015.1 880.9 1016.1 879.9 1017.1 880.0 1018.0 880.8 1019.0 881.8 1019.9 879.9 1020.9 880.6 1021.9 880.7 1022.8 881.3 1023.8 880.1 1024.7 881.0 1025.7 881.4 1026.7 880.8 1027.6 880.7 1028.6 881.3 1029.5 881.2 1030.5 881.8 1031.5 880.0 1032.4 881.7 1033.4 880.6 1034.3 879.9 1035.3 880.4 1036.3 879.9 1037.2 880.7 1038.2 881.6 1039.1 879.1 1040.1 879.9 1041.1 881.4 1042.0 880.6 1043.0 881.4 1044.0 879.8 1044.9 880.8 1045.9 878.8 1046.8 880.2 1047.8 881.4 1048.8 881.8 1049.7 882.1 1050.7 880.8 1051.6 880.2 1052.6 880.6 1053.6 879.4 1054.5 881.9 1055.5 881.7 1056.4 880.2 1057.4 882.3" fill="none" stroke="#3a3aff" stroke-width="1" stroke-opacity="0.8"/>
<path d="M192.9 883.3 193.9 881.1 194.8 881.8 195.8 881.6 196.7 882.2 197.7 880.5 198.7 881.2 199.6 881.0 200.6 880.7 201.5 880.9 202.5 881.1 203.5 881.3 204.4 880.8 205.4 881.8 206.3 881.1 207.3 879.1 208.3 882.4 209.2 881.2 210.2 880.9 211.2 881.7 212.1 881.6 213.1 881.5 214.0 880.8 215.0 881.6 216.0 880.3 216.9 882.5 217.9 880.5 218.8 881.2 219.8 881.4 220.8 881.6 221.7 881.2 222.7 881.7 223.6 878.6 224.6 881.2 225.6 881.1 226.5 880.9 227.5 882.4 228.4 880.5 229.4 881.2 230.4 879.7 231.3 881.4 232.3 880.0 233.2 880.0 234.2 883.0 235.2 881.7 236.1 881.2 237.1 881.3 238.0 880.1 239.0 880.3 240.0 881.5 240.9 879.5 241.9 881.3 242.8 879.8 243.8 881.2 244.8 880.2 245.7 882.4 246.7 881.8 247.7 880.7 248.6 879.6 249.6 880.4 250.5 881.0 251.5 880.3 252.5 881.2 253.4 881.8 254.4 880.9 255.3 880.6 256.3 881.6 257.3 880.7 258.2 881.6 259.2 880.7 260.1 882.2 261.1 880.7 262.1 880.1 263.0 880.9 264.0 880.4 264.9 880.1 265.9 880.7 266.9 881.4 267.8 879.1 268.8 880.8 269.7 880.7 270.7 880.6 271.7 881.4 272.6 879.7 273.6 881.2 274.5 880.5 275.5 880.8 276.5 880.5 277.4 880.4 278.4 880.2 279.3 880.9 280.3 882.2 281.3 881.4 282.2 881.2 283.2 881.0 284.2 880.2 285.1 881.0 286.1 882.1 287.0 879.5 288.0 881.1 289.0 881.2 289.9 880.6 290.9 881.0 291.8 881.5 292.8 882.1 293.8 881.3 294.7 881.6 295.7 880.5 296.6 880.9 297.6 880.4 298.6 880.4 299.5 879.8 300.5 880.7 301.4 881.3 302.4 880.0 303.4 880.3 304.3 880.6 305.3 880.1 306.2 880.8 307.2 880.2 308.2 879.0 309.1 879.1 310.1 880.5 311.0 880.4 312.0 880.7 313.0 880.0 313.9 879.9 314.9 878.5 315.9 880.8 316.8 878.9 317.8 880.5 318.7 878.7 319.7 879.0 320.7 879.7 321.6 879.2 322.6 878.9 323.5 880.1 324.5 879.9 325.5 879.7 326.4 879.0 327.4 878.6 328.3 878.8 329.3 878.8 330.3 879.1 331.2 879.7 332.2 878.9 333.1 878.4 334.1 878.5 335.1 879.9 336.0 879.0 337.0 879.0 337.9 879.0 338.9 879.2 339.9 878.8 340.8 879.6 341.8 879.2 342.7 876.2 343.7 878.3 344.7 880.8 345.6 877.3 346.6 878.4 347.5 879.1 348.5 878.2 349.5 879.2 350.4 877.0 351.4 877.0 352.4 877.8 353.3 877.2 354.3 876.9 355.2 878.2 356.2 877.9 357.2 877.6 358.1 877.1 359.1 877.6 360.0 877.2 361.0 876.6 362.0 877.6 362.9 877.4 363.9 877.0 364.8 877.4 365.8 875.8 366.8 876.5 367.7 876.1 368.7 877.5 369.6 876.7 370.6 877.9 371.6 877.3 372.5 875.5 373.5 874.7 374.4 875.9 375.4 875.0 376.4 874.9 377.3 873.9 378.3 875.1 379.2 874.4 380.2 874.2 381.2 873.8 382.1 872.3 383.1 870.6 384.1 871.8 385.0 870.9 386.0 870.4 386.9 871.0 387.9 869.2 388.9 869.9 389.8 867.7 390.8 867.1 391.7 865.8 392.7 864.9 393.7 861.6 394.6 862.7 395.6 860.3 396.5 857.8 397.5 858.0 398.5 856.4 399.4 856.0 400.4 854.2 401.3 852.6 402.3 849.5 403.3 852.4 404.2 851.6 405.2 850.6 406.1 850.3 407.1 851.4 408.1 849.6 409.0 852.0 410.0 852.2 410.9 852.0 411.9 854.6 412.9 855.7 413.8 858.3 414.8 858.6 415.7 857.2 416.7 857.9 417.7 860.9 418.6 861.8 419.6 862.0 420.6 862.3 421.5 864.4 422.5 864.2 423.4 865.3 424.4 867.3 425.4 867.2 426.3 866.7 427.3 866.7 428.2 867.9 429.2 870.0 430.2 868.1 431.1 870.3 432.1 868.1 433.0 868.7 434.0 869.5 435.0 868.1 435.9 868.8 436.9 867.4 437.8 869.2 438.8 869.5 439.8 867.7 440.7 868.3 441.7 867.5 442.6 865.6 443.6 869.9 444.6 867.6 445.5 867.5 446.5 866.7 447.4 866.2 448.4 867.9 449.4 863.4 450.3 864.4 451.3 863.8 452.2 863.5 453.2 863.8 454.2 861.8 455.1 860.6 456.1 860.1 457.1 860.9 458.0 860.7 459.0 859.7 459.9 859.7 460.9 856.6 461.9 857.2 462.8 855.8 463.8 853.8 464.7 852.0 465.7 852.6 466.7 849.6 467.6 848.7 468.6 846.6 469.5 848.2 470.5 844.7 471.5 842.7 472.4 841.5 473.4 840.0 474.3 838.9 475.3 835.3 476.3 834.5 477.2 835.1 478.2 834.6 479.1 831.0 480.1 831.4 481.1 829.7 482.0 827.1 483.0 829.1 483.9 828.0 484.9 830.5 485.9 829.7 486.8 830.7 487.8 830.1 488.8 833.4 489.7 832.4 490.7 836.6 491.6 839.6 492.6 838.2 493.6 842.3 494.5 844.5 495.5 844.2 496.4 847.1 497.4 847.3 498.4 847.9 499.3 847.3 500.3 849.3 501.2 849.8 502.2 854.7 503.2 853.1 504.1 853.1 505.1 852.3 506.0 855.9 507.0 853.1 508.0 856.0 508.9 855.6 509.9 854.4 510.8 853.4 511.8 853.7 512.8 851.8 513.7 853.3 514.7 853.6 515.6 851.7 516.6 850.6 517.6 847.0 518.5 846.2 519.5 842.2 520.4 839.9 521.4 837.6 522.4 835.2 523.3 826.8 524.3 820.2 525.3 809.9 526.2 802.9 527.2 790.4 528.1 776.6 529.1 761.4 530.1 746.0 531.0 725.7 532.0 705.1 532.9 679.9 533.9 654.1 534.9 628.1 535.8 598.1 536.8 568.1 537.7 539.0 538.7 508.2 539.7 479.4 540.6 455.2 541.6 434.0 542.5 421.6 543.5 412.3 544.5 412.0 545.4 417.6 546.4 426.8 547.3 444.4 548.3 466.6 549.3 489.4 550.2 517.0 551.2 543.6 552.1 571.2 553.1 600.4 554.1 626.1 555.0 655.6 556.0 679.1 557.0 704.5 557.9 722.6 558.9 743.5 559.8 760.9 560.8 775.6 561.8 789.7 562.7 799.9 563.7 809.6 564.6 817.8 565.6 826.1 566.6 832.0 567.5 838.4 568.5 842.1 569.4 845.5 570.4 848.6 571.4 850.0 572.3 853.9 573.3 856.7 574.2 856.5 575.2 859.1 576.2 861.3 577.1 861.1 578.1 863.0 579.0 863.3 580.0 867.0 581.0 866.7 581.9 867.2 582.9 866.1 583.8 868.0 584.8 867.8 585.8 868.8 586.7 868.5 587.7 869.6 588.6 869.2 589.6 870.6 590.6 872.4 591.5 869.9 592.5 870.3 593.5 872.3 594.4 872.8 595.4 872.1 596.3 873.2 597.3 873.4 598.3 873.7 599.2 874.7 600.2 873.1 601.1 874.5 602.1 874.3 603.1 873.7 604.0 875.0 605.0 873.6 605.9 873.6 606.9 876.0 607.9 874.3 608.8 876.9 609.8 876.5 610.7 875.2 611.7 875.1 612.7 874.0 613.6 876.0 614.6 874.8 615.5 877.7 616.5 875.0 617.5 876.6 618.4 874.3 619.4 876.5 620.3 878.0 621.3 876.6 622.3 876.3 623.2 876.7 624.2 877.5 625.2 878.0 626.1 877.2 627.1 875.7 628.0 877.8 629.0 878.4 630.0 879.6 630.9 877.9 631.9 877.9 632.8 877.4 633.8 878.5 634.8 879.4 635.7 877.2 636.7 878.1 637.6 877.3 638.6 877.6 639.6 878.1 640.5 878.7 641.5 877.6 642.4 878.1 643.4 879.5 644.4 878.9 645.3 879.1 646.3 878.9 647.2 878.4 648.2 879.0 649.2 879.1 650.1 878.7 651.1 879.6 652.0 878.8 653.0 879.5 654.0 878.8 654.9 879.4 655.9 878.3 656.8 878.4 657.8 878.0 658.8 879.9 659.7 879.4 660.7 879.2 661.7 879.5 662.6 878.4 663.6 879.2 664.5 878.7 665.5 877.6 666.5 878.9 667.4 878.5 668.4 880.4 669.3 878.6 670.3 878.7 671.3 880.0 672.2 879.3 673.2 878.2 674.1 879.5 675.1 878.7 676.1 880.7 677.0 878.5 678.0 878.8 678.9 877.2 679.9 878.8 680.9 880.9 681.8 879.3 682.8 878.7 683.7 879.7 684.7 879.2 685.7 879.4 686.6 881.5 687.6 881.1 688.5 880.8 689.5 880.8 690.5 878.8 691.4 877.9 692.4 880.1 693.3 879.8 694.3 879.5 695.3 879.4 696.2 880.1 697.2 880.0 698.2 879.7 699.1 879.9 700.1 879.3 701.0 879.2 702.0 880.6 703.0 879.2 703.9 881.0 704.9 879.9 705.8 879.4 706.8 880.2 707.8 878.7 708.7 878.9 709.7 878.6 710.6 878.7 711.6 879.0 712.6 879.9 713.5 878.2 714.5 876.4 715.4 876.1 716.4 874.7 717.4 876.2 718.3 875.6 719.3 874.4 720.2 873.6 721.2 872.9 722.2 872.1 723.1 871.5 724.1 870.5 725.0 868.9 726.0 870.4 727.0 870.7 727.9 868.0 728.9 869.6 729.9 869.3 730.8 871.5 731.8 871.5 732.7 873.8 733.7 874.4 734.7 873.7 735.6 874.5 736.6 875.2 737.5 876.9 738.5 876.2 739.5 877.8 740.4 876.8 741.4 879.2 742.3 879.0 743.3 877.9 744.3 878.5 745.2 879.4 746.2 879.6 747.1 877.2 748.1 879.8 749.1 880.9 750.0 879.3 751.0 878.7 751.9 880.8 752.9 880.0 753.9 880.0 754.8 880.4 755.8 878.9 756.7 879.4 757.7 879.0 758.7 879.0 759.6 879.7 760.6 879.1 761.5 881.3 762.5 880.4 763.5 880.7 764.4 878.7 765.4 879.9 766.4 879.9 767.3 880.2 768.3 880.4 769.2 879.4 770.2 879.3 771.2 880.8 772.1 881.9 773.1 881.7 774.0 879.9 775.0 879.5 776.0 880.3 776.9 880.5 777.9 881.5 778.8 879.9 779.8 879.5 780.8 881.0 781.7 879.6 782.7 879.5 783.6 880.6 784.6 880.0 785.6 879.3 786.5 879.9 787.5 879.8 788.4 880.0 789.4 879.6 790.4 880.6 791.3 879.9 792.3 879.7 793.2 881.0 794.2 879.4 795.2 880.8 796.1 880.7 797.1 880.0 798.1 880.4 799.0 879.0 800.0 880.4 800.9 879.4 801.9 879.5 802.9 880.4 803.8 879.6 804.8 880.3 805.7 880.5 806.7 881.0 807.7 880.5 808.6 881.0 809.6 879.6 810.5 879.9 811.5 880.7 812.5 881.1 813.4 880.6 814.4 879.8 815.3 879.4 816.3 879.5 817.3 881.1 818.2 879.5 819.2 880.0 820.1 880.7 821.1 880.6 822.1 879.7 823.0 881.8 824.0 880.4 824.9 880.5 825.9 880.9 826.9 880.0 827.8 880.8 828.8 880.2 829.7 879.6 830.7 879.5 831.7 880.6 832.6 880.4 833.6 880.2 834.6 879.9 835.5 880.1 836.5 880.9 837.4 881.2 838.4 880.1 839.4 880.5 840.3 878.9 841.3 879.4 842.2 879.8 843.2 879.6 844.2 880.9 845.1 878.7 846.1 880.7 847.0 880.9 848.0 882.1 849.0 880.0 849.9 880.7 850.9 881.5 851.8 881.1 852.8 879.6 853.8 880.1 854.7 879.5 855.7 880.4 856.6 880.9 857.6 881.4 858.6 880.8 859.5 881.1 860.5 881.2 861.4 879.8 862.4 880.9 863.4 881.2 864.3 880.3 865.3 879.7 866.2 880.5 867.2 880.5 868.2 881.0 869.1 879.0 870.1 880.1 871.1 882.0 872.0 881.4 873.0 880.3 873.9 880.2 874.9 880.2 875.9 879.7 876.8 880.1 877.8 880.4 878.7 879.5 879.7 880.4 880.7 880.7 881.6 879.5 882.6 880.1 883.5 879.3 884.5 880.5 885.5 880.6 886.4 880.1 887.4 880.5 888.3 880.9 889.3 881.0 890.3 879.5 891.2 880.2 892.2 879.4 893.1 879.0 894.1 881.3 895.1 881.1 896.0 881.5 897.0 881.1 897.9 880.1 898.9 880.7 899.9 880.1 900.8 881.6 901.8 878.7 902.8 880.8 903.7 880.1 904.7 881.1 905.6 881.5 906.6 880.0 907.6 881.6 908.5 881.4 909.5 879.3 910.4 882.0 911.4 879.6 912.4 879.5 913.3 881.3 914.3 880.0 915.2 880.7 916.2 880.5 917.2 879.8 918.1 881.8 919.1 881.7 920.0 880.6 921.0 881.8 922.0 880.6 922.9 880.8 923.9 880.3 924.8 879.6 925.8 880.3 926.8 879.8 927.7 880.9 928.7 880.7 929.6 880.1 930.6 881.6 931.6 880.9 932.5 882.0 933.5 880.3 934.4 880.3 935.4 880.0 936.4 880.8 937.3 880.5 938.3 880.6 939.3 882.0 940.2 881.2 941.2 880.1 942.1 880.9 943.1 880.4 944.1 880.4 945.0 880.5 946.0 880.7 946.9 881.1 947.9 881.4 948.9 880.7 949.8 880.0 950.8 880.6 951.7 880.5 952.7 880.4 953.7 879.7 954.6 880.5 955.6 879.3 956.5 881.6 957.5 881.2 958.5 881.2 959.4 879.9 960.4 880.8 961.3 881.6 962.3 880.5 963.3 879.8 964.2 880.6 965.2 878.9 966.1 881.4 967.1 881.0 968.1 879.6 969.0 881.2 970.0 881.6 971.0 881.2 971.9 881.2 972.9 881.9 973.8 880.9 974.8 881.8 975.8 880.5 976.7 880.2 977.7 880.5 978.6 879.9 979.6 881.0 980.6 880.2 981.5 881.0 982.5 881.0 983.4 882.0 984.4 882.1 985.4 880.3 986.3 880.6 987.3 880.6 988.2 880.3 989.2 882.1 990.2 881.7 991.1 880.6 992.1 879.7 993.0 880.2 994.0 880.8 995.0 881.9 995.9 879.8 996.9 881.9 997.8 879.6 998.8 881.0 999.8 879.9 1000.7 880.4 1001.7 878.9 1002.6 881.2 1003.6 880.8 1004.6 880.0 1005.5 879.1 1006.5 880.7 1007.5 880.7 1008.4 879.7 1009.4 881.1 1010.3 880.7 1011.3 879.9 1012.3 880.2 1013.2 878.9 1014.2 881.3 1015.1 881.5 1016.1 880.6 1017.1 879.8 1018.0 879.9 1019.0 880.5 1019.9 880.1 1020.9 881.0 1021.9 880.1 1022.8 881.5 1023.8 881.7 1024.7 880.3 1025.7 880.2 1026.7 878.5 1027.6 880.8 1028.6 881.1 1029.5 880.1 1030.5 881.6 1031.5 880.3 1032.4 879.9 1033.4 881.4 1034.3 881.2 1035.3 879.2 1036.3 880.3 1037.2 879.8 1038.2 880.6 1039.1 880.9 1040.1 880.5 1041.1 880.9 1042.0 881.5 1043.0 880.6 1044.0 879.9 1044.9 880.1 1045.9 881.5 1046.8 882.1 1047.8 880.7 1048.8 881.1 1049.7 880.2 1050.7 880.4 1051.6 881.6 1052.6 880.4 1053.6 881.0 1054.5 880.9 1055.5 881.7 1056.4 881.0 1057.4 880.8" fill="none" stroke="#ff3a3a" stroke-width="1" stroke-opacity="0.8"/>
<path d="M192.9 881.3 193.9 882.2 194.8 880.5 195.8 882.0 196.7 881.0 197.7 881.0 198.7 882.6 199.6 881.3 200.6 881.2 201.5 881.8 202.5 882.0 203.5 881.2 204.4 881.6 205.4 880.5 206.3 880.9 207.3 880.8 208.3 880.2 209.2 880.0 210.2 879.9 211.2 881.0 212.1 881.0 213.1 880.9 214.0 881.2 215.0 880.1 216.0 881.1 216.9 881.3 217.9 881.7 218.8 880.5 219.8 880.8 220.8 879.6 221.7 880.7 222.7 879.4 223.6 880.0 224.6 881.9 225.6 879.4 226.5 881.7 227.5 881.3 228.4 880.8 229.4 881.4 230.4 881.5 231.3 881.9 232.3 880.9 233.2 880.6 234.2 880.6 235.2 880.3 236.1 881.0 237.1 880.4 238.0 881.8 239.0 879.6 240.0 880.2 240.9 880.3 241.9 879.4 242.8 882.4 243.8 879.2 244.8 880.8 245.7 880.6 246.7 882.2 247.7 879.5 248.6 881.8 249.6 880.4 250.5 880.8 251.5 880.4 252.5 881.4 253.4 880.1 254.4 880.9 255.3 881.2 256.3 882.3 257.3 879.1 258.2 882.1 259.2 881.6 260.1 880.5 261.1 881.1 262.1 880.5 263.0 882.1 264.0 881.0 264.9 880.7 265.9 880.7 266.9 880.7 267.8 880.7 268.8 880.2 269.7 882.4 270.7 879.4 271.7 878.1 272.6 880.7 273.6 880.7 274.5 881.1 275.5 880.6 276.5 880.6 277.4 881.0 278.4 881.5 279.3 880.4 280.3 880.4 281.3 882.2 282.2 881.1 283.2 879.9 284.2 882.5 285.1 881.3 286.1 880.2 287.0 879.8 288.0 880.9 289.0 880.0 289.9 879.8 290.9 879.6 291.8 880.2 292.8 881.5 293.8 880.3 294.7 879.5 295.7 881.1 296.6 880.6 297.6 881.2 298.6 881.5 299.5 880.4 300.5 880.4 301.4 880.5 302.4 879.6 303.4 881.0 304.3 881.5 305.3 880.6 306.2 880.2 307.2 880.2 308.2 879.8 309.1 879.8 310.1 880.1 311.0 879.7 312.0 880.0 313.0 879.1 313.9 880.6 314.9 880.3 315.9 879.4 316.8 878.5 317.8 880.2 318.7 881.1 319.7 879.6 320.7 879.8 321.6 879.7 322.6 880.6 323.5 879.4 324.5 880.9 325.5 879.8 326.4 880.8 327.4 880.0 328.3 879.8 329.3 878.8 330.3 879.4 331.2 879.7 332.2 880.4 333.1 880.0 334.1 879.2 335.1 880.1 336.0 880.5 337.0 879.6 337.9 879.3 338.9 879.3 339.9 880.2 340.8 879.9 341.8 878.7 342.7 879.7 343.7 879.0 344.7 878.7 345.6 880.2 346.6 879.8 347.5 878.5 348.5 879.1 349.5 879.4 350.4 878.4 351.4 878.7 352.4 879.3 353.3 877.2 354.3 878.8 355.2 879.1 356.2 878.8 357.2 877.2 358.1 878.4 359.1 877.3 360.0 878.4 361.0 878.3 362.0 877.8 362.9 876.9 363.9 876.9 364.8 877.9 365.8 876.3 366.8 877.3 367.7 877.1 368.7 876.3 369.6 878.3 370.6 876.2 371.6 877.7 372.5 873.9 373.5 873.5 374.4 876.0 375.4 875.4 376.4 874.3 377.3 874.2 378.3 872.2 379.2 873.0 380.2 872.2 381.2 872.5 382.1 873.0 383.1 871.8 384.1 871.6 385.0 870.0 386.0 869.7 386.9 869.5 387.9 868.4 388.9 869.1 389.8 866.2 390.8 867.9 391.7 864.1 392.7 864.9 393.7 861.9 394.6 862.9 395.6 859.9 396.5 858.6 397.5 857.2 398.5 853.9 399.4 851.4 400.4 848.3 401.3 849.7 402.3 845.5 403.3 843.7 404.2 842.6 405.2 843.5 406.1 838.2 407.1 840.0 408.1 839.4 409.0 841.2 410.0 840.0 410.9 843.6 411.9 847.3 412.9 850.5 413.8 852.9 414.8 852.6 415.7 855.7 416.7 857.5 417.7 858.0 418.6 859.6 419.6 863.3 420.6 864.0 421.5 864.8 422.5 867.1 423.4 865.9 424.4 868.1 425.4 868.4 426.3 868.9 427.3 870.0 428.2 870.3 429.2 870.8 430.2 871.3 431.1 873.2 432.1 871.5 433.0 873.0 434.0 872.9 435.0 872.4 435.9 873.7 436.9 872.4 437.8 874.4 438.8 872.9 439.8 873.4 440.7 874.3 441.7 874.9 442.6 875.1 443.6 875.2 444.6 874.4 445.5 873.9 446.5 875.3 447.4 875.2 448.4 874.3 449.4 876.0 450.3 875.4 451.3 874.5 452.2 875.8 453.2 874.4 454.2 874.8 455.1 876.0 456.1 874.3 457.1 875.7 458.0 874.6 459.0 876.4 459.9 875.2 460.9 876.0 461.9 874.6 462.8 875.6 463.8 876.7 464.7 876.2 465.7 874.3 466.7 876.6 467.6 876.6 468.6 875.4 469.5 876.9 470.5 874.8 471.5 875.6 472.4 876.5 473.4 876.6 474.3 876.6 475.3 874.4 476.3 873.8 477.2 875.5 478.2 873.9 479.1 874.9 480.1 873.8 481.1 875.7 482.0 875.3 483.0 875.0 483.9 874.4 484.9 874.2 485.9 873.7 486.8 874.2 487.8 873.8 488.8 873.8 489.7 872.8 490.7 874.6 491.6 873.0 492.6 873.7 493.6 873.4 494.5 871.1 495.5 870.0 496.4 872.4 497.4 870.5 498.4 870.5 499.3 869.8 500.3 869.7 501.2 868.0 502.2 868.5 503.2 867.7 504.1 867.5 505.1 864.7 506.0 867.0 507.0 865.9 508.0 863.1 508.9 863.2 509.9 863.1 510.8 862.7 511.8 861.0 512.8 861.3 513.7 858.6 514.7 856.1 515.6 854.9 516.6 854.6 517.6 851.2 518.5 850.5 519.5 848.2 520.4 844.7 521.4 841.6 522.4 836.0 523.3 831.2 524.3 824.5 525.3 817.2 526.2 807.4 527.2 798.3 528.1 785.4 529.1 770.5 530.1 755.4 531.0 736.1 532.0 712.7 532.9 689.5 533.9 660.9 534.9 630.3 535.8 595.5 536.8 559.9 537.7 527.3 538.7 492.5 539.7 460.8 540.6 432.5 541.6 412.0 542.5 396.9 543.5 394.6 544.5 400.4 545.4 417.3 546.4 446.9 547.3 482.7 548.3 515.8 549.3 557.1 550.2 592.6 551.2 628.7 552.1 662.4 553.1 692.7 554.1 718.1 555.0 742.8 556.0 763.4 557.0 781.0 557.9 793.4 558.9 808.1 559.8 818.4 560.8 827.2 561.8 829.3 562.7 836.6 563.7 838.7 564.6 845.1 565.6 848.4 566.6 849.3 567.5 851.1 568.5 855.1 569.4 857.3 570.4 857.4 571.4 859.4 572.3 858.4 573.3 861.4 574.2 863.3 575.2 864.3 576.2 866.6 577.1 864.7 578.1 864.4 579.0 867.7 580.0 867.4 581.0 868.8 581.9 869.8 582.9 870.2 583.8 871.5 584.8 871.8 585.8 869.5 586.7 871.4 587.7 873.6 588.6 871.8 589.6 873.4 590.6 872.7 591.5 872.7 592.5 874.8 593.5 874.6 594.4 873.7 595.4 874.9 596.3 873.2 597.3 873.9 598.3 875.5 599.2 875.0 600.2 874.2 601.1 875.7 602.1 875.7 603.1 876.7 604.0 876.6 605.0 875.7 605.9 875.6 606.9 876.1 607.9 876.1 608.8 877.6 609.8 877.9 610.7 877.8 611.7 877.1 612.7 876.6 613.6 877.7 614.6 876.7 615.5 877.3 616.5 875.8 617.5 876.9 618.4 878.6 619.4 876.6 620.3 876.3 621.3 877.4 622.3 879.0 623.2 878.9 624.2 877.5 625.2 877.4 626.1 877.8 627.1 877.2 628.0 878.0 629.0 877.8 630.0 876.9 630.9 877.7 631.9 878.0 632.8 877.5 633.8 877.4 634.8 879.1 635.7 879.9 636.7 878.2 637.6 878.1 638.6 878.9 639.6 878.3 640.5 877.9 641.5 879.7 642.4 877.8 643.4 878.1 644.4 878.2 645.3 878.0 646.3 878.6 647.2 879.2 648.2 880.0 649.2 879.4 650.1 878.9 651.1 877.9 652.0 878.8 653.0 878.2 654.0 878.9 654.9 879.7 655.9 879.1 656.8 878.8 657.8 878.4 658.8 879.0 659.7 879.1 660.7 878.3 661.7 878.7 662.6 879.8 663.6 877.8 664.5 878.8 665.5 878.2 666.5 880.4 667.4 879.7 668.4 879.6 669.3 879.5 670.3 879.5 671.3 879.5 672.2 878.0 673.2 879.5 674.1 879.7 675.1 878.1 676.1 879.9 677.0 879.8 678.0 878.1 678.9 878.9 679.9 879.1 680.9 878.9 681.8 879.6 682.8 878.3 683.7 879.2 684.7 879.5 685.7 879.9 686.6 879.4 687.6 879.2 688.5 879.9 689.5 877.8 690.5 880.1 691.4 879.1 692.4 878.4 693.3 879.0 694.3 877.9 695.3 877.7 696.2 879.1 697.2 878.7 698.2 879.9 699.1 878.6 700.1 878.3 701.0 878.5 702.0 880.6 703.0 879.2 703.9 878.7 704.9 878.4 705.8 878.2 706.8 878.9 707.8 879.3 708.7 879.8 709.7 879.7 710.6 878.8 711.6 877.9 712.6 877.4 713.5 875.9 714.5 876.5 715.4 877.1 716.4 875.8 717.4 875.6 718.3 873.2 719.3 874.0 720.2 872.3 721.2 870.7 722.2 869.7 723.1 865.8 724.1 866.0 725.0 864.4 726.0 866.0 727.0 863.3 727.9 862.6 728.9 863.9 729.9 862.5 730.8 865.7 731.8 864.6 732.7 866.5 733.7 867.1 734.7 870.1 735.6 868.8 736.6 872.7 737.5 872.6 738.5 874.5 739.5 874.4 740.4 876.4 741.4 877.0 742.3 877.9 743.3 878.2 744.3 878.8 745.2 879.3 746.2 878.4 747.1 878.0 748.1 878.0 749.1 879.7 750.0 878.9 751.0 880.1 751.9 879.4 752.9 878.6 753.9 880.1 754.8 881.0 755.8 879.3 756.7 878.8 757.7 878.9 758.7 880.2 759.6 879.1 760.6 879.3 761.5 880.1 762.5 879.6 763.5 879.7 764.4 879.2 765.4 879.1 766.4 879.8 767.3 879.8 768.3 880.1 769.2 879.3 770.2 880.0 771.2 880.1 772.1 879.8 773.1 880.2 774.0 880.5 775.0 879.9 776.0 879.8 776.9 879.0 777.9 880.0 778.8 879.7 779.8 879.5 780.8 879.1 781.7 880.2 782.7 881.8 783.6 880.1 784.6 879.8 785.6 880.1 786.5 879.3 787.5 879.9 788.4 879.3 789.4 879.3 790.4 880.0 791.3 880.0 792.3 879.7 793.2 879.2 794.2 880.0 795.2 879.0 796.1 880.4 797.1 879.5 798.1 879.8 799.0 880.4 800.0 880.3 800.9 878.8 801.9 879.6 802.9 880.1 803.8 879.0 804.8 877.9 805.7 879.8 806.7 879.8 807.7 880.2 808.6 879.9 809.6 879.9 810.5 880.0 811.5 880.9 812.5 880.2 813.4 880.3 814.4 879.5 815.3 880.7 816.3 879.7 817.3 880.4 818.2 878.2 819.2 880.0 820.1 879.8 821.1 879.5 822.1 880.9 823.0 880.2 824.0 879.7 824.9 879.4 825.9 881.3 826.9 880.5 827.8 880.4 828.8 879.3 829.7 880.9 830.7 880.3 831.7 879.7 832.6 879.8 833.6 878.6 834.6 880.4 835.5 879.0 836.5 880.6 837.4 879.6 838.4 879.4 839.4 880.2 840.3 880.1 841.3 879.0 842.2 879.9 843.2 880.4 844.2 879.7 845.1 878.9 846.1 879.7 847.0 879.2 848.0 879.5 849.0 880.0 849.9 879.9 850.9 879.8 851.8 878.7 852.8 880.2 853.8 879.8 854.7 879.6 855.7 880.1 856.6 881.5 857.6 879.0 858.6 878.7 859.5 880.6 860.5 879.4 861.4 881.0 862.4 879.2 863.4 879.6 864.3 880.6 865.3 880.7 866.2 880.3 867.2 880.3 868.2 879.9 869.1 879.6 870.1 879.8 871.1 881.0 872.0 880.5 873.0 880.0 873.9 880.2 874.9 880.6 875.9 880.9 876.8 879.9 877.8 880.0 878.7 880.3 879.7 882.0 880.7 880.2 881.6 881.0 882.6 878.8 883.5 880.7 884.5 878.9 885.5 879.2 886.4 879.5 887.4 879.9 888.3 880.2 889.3 880.3 890.3 880.2 891.2 879.7 892.2 882.1 893.1 880.4 894.1 880.6 895.1 881.6 896.0 880.8 897.0 880.5 897.9 880.3 898.9 881.5 899.9 879.2 900.8 879.3 901.8 880.2 902.8 878.5 903.7 879.5 904.7 880.9 905.6 879.7 906.6 880.2 907.6 880.6 908.5 879.2 909.5 880.3 910.4 879.6 911.4 879.2 912.4 879.9 913.3 880.1 914.3 879.8 915.2 879.6 916.2 880.8 917.2 881.0 918.1 880.5 919.1 880.0 920.0 879.3 921.0 879.5 922.0 879.3 922.9 880.3 923.9 880.8 924.8 880.8 925.8 880.1 926.8 879.8 927.7 880.3 928.7 880.2 929.6 880.6 930.6 881.3 931.6 879.6 932.5 881.7 933.5 878.5 934.4 878.8 935.4 879.0 936.4 879.4 937.3 880.0 938.3 881.7 939.3 879.6 940.2 881.0 941.2 879.9 942.1 880.3 943.1 879.4 944.1 881.9 945.0 880.1 946.0 879.7 946.9 881.9 947.9 880.3 948.9 880.5 949.8 880.1 950.8 879.5 951.7 879.1 952.7 880.0 953.7 881.4 954.6 880.5 955.6 880.0 956.5 881.0 957.5 879.5 958.5 881.2 959.4 880.2 960.4 879.5 961.3 880.7 962.3 880.6 963.3 879.9 964.2 880.4 965.2 880.9 966.1 881.3 967.1 879.5 968.1 878.2 969.0 881.8 970.0 880.0 971.0 879.9 971.9 880.5 972.9 879.9 973.8 881.0 974.8 879.3 975.8 880.1 976.7 879.2 977.7 881.4 978.6 880.0 979.6 881.1 980.6 881.3 981.5 879.3 982.5 880.1 983.4 880.8 984.4 880.3 985.4 880.1 986.3 880.9 987.3 880.9 988.2 879.8 989.2 880.1 990.2 880.7 991.1 880.4 992.1 880.4 993.0 879.4 994.0 881.6 995.0 880.1 995.9 880.5 996.9 880.2 997.8 880.3 998.8 880.4 999.8 879.6 1000.7 880.5 1001.7 881.2 1002.6 880.6 1003.6 880.8 1004.6 880.6 1005.5 880.3 1006.5 881.7 1007.5 879.7 1008.4 880.6 1009.4 881.1 1010.3 880.5 1011.3 879.5 1012.3 879.4 1013.2 881.5 1014.2 879.5 1015.1 880.3 1016.1 880.7 1017.1 880.4 1018.0 878.9 1019.0 878.8 1019.9 880.2 1020.9 879.7 1021.9 880.1 1022.8 880.4 1023.8 880.4 1024.7 879.3 1025.7 879.0 1026.7 881.0 1027.6 879.8 1028.6 879.4 1029.5 878.8 1030.5 880.7 1031.5 879.3 1032.4 879.5 1033.4 880.8 1034.3 880.5 1035.3 880.7 1036.3 879.3 1037.2 878.1 1038.2 879.6 1039.1 880.1 1040.1 879.8 1041.1 881.0 1042.0 880.6 1043.0 879.5 1044.0 880.8 1044.9 880.2 1045.9 880.0 1046.8 881.2 1047.8 879.0 1048.8 881.1 1049.7 881.2 1050.7 878.8 1051.6 880.2 1052.6 880.2 1053.6 879.5 1054.5 879.9 1055.5 879.7 1056.4 880.4 1057.4 879.9" fill="none" stroke="#1f8f1f" stroke-width="1" stroke-opacity="0.8"/>
<rect x="192.9" y="329.3" width="864.5" height="555.2" fill="none" stroke="#000" stroke-width="3.6"/>
<line x1="212.1" y1="884.5" x2="212.1" y2="877.0" stroke="#000" stroke-width="1.9"/>
<line x1="212.1" y1="329" x2="212.1" y2="337" stroke="#000" stroke-width="1.9"/>
<line x1="231.3" y1="884.5" x2="231.3" y2="877.0" stroke="#000" stroke-width="1.9"/>
<line x1="231.3" y1="329" x2="231.3" y2="337" stroke="#000" stroke-width="1.9"/>
<line x1="250.5" y1="884.5" x2="250.5" y2="877.0" stroke="#000" stroke-width="1.9"/>
<line x1="250.5" y1="329" x2="250.5" y2="337" stroke="#000" stroke-width="1.9"/>
<line x1="269.7" y1="884.5" x2="269.7" y2="877.0" stroke="#000" stroke-width="1.9"/>
<line x1="269.7" y1="329" x2="269.7" y2="337" stroke="#000" stroke-width="1.9"/>
<line x1="289.0" y1="884.5" x2="289.0" y2="869.5" stroke="#000" stroke-width="3.4"/>
<line x1="289.0" y1="329" x2="289.0" y2="344.5" stroke="#000" stroke-width="3.4"/>
<line x1="308.2" y1="884.5" x2="308.2" y2="877.0" stroke="#000" stroke-width="1.9"/>
<line x1="308.2" y1="329" x2="308.2" y2="337" stroke="#000" stroke-width="1.9"/>
<line x1="327.4" y1="884.5" x2="327.4" y2="877.0" stroke="#000" stroke-width="1.9"/>
<line x1="327.4" y1="329" x2="327.4" y2="337" stroke="#000" stroke-width="1.9"/>
<line x1="346.6" y1="884.5" x2="346.6" y2="877.0" stroke="#000" stroke-width="1.9"/>
<line x1="346.6" y1="329" x2="346.6" y2="337" stroke="#000" stroke-width="1.9"/>
<line x1="365.8" y1="884.5" x2="365.8" y2="877.0" stroke="#000" stroke-width="1.9"/>
<line x1="365.8" y1="329" x2="365.8" y2="337" stroke="#000" stroke-width="1.9"/>
<line x1="385.0" y1="884.5" x2="385.0" y2="869.5" stroke="#000" stroke-width="3.4"/>
<line x1="385.0" y1="329" x2="385.0" y2="344.5" stroke="#000" stroke-width="3.4"/>
<line x1="404.2" y1="884.5" x2="404.2" y2="877.0" stroke="#000" stroke-width="1.9"/>
<line x1="404.2" y1="329" x2="404.2" y2="337" stroke="#000" stroke-width="1.9"/>
<line x1="423.4" y1="884.5" x2="423.4" y2="877.0" stroke="#000" stroke-width="1.9"/>
<line x1="423.4" y1="329" x2="423.4" y2="337" stroke="#000" stroke-width="1.9"/>
<line x1="442.6" y1="884.5" x2="442.6" y2="877.0" stroke="#000" stroke-width="1.9"/>
<line x1="442.6" y1="329" x2="442.6" y2="337" stroke="#000" stroke-width="1.9"/>
<line x1="461.9" y1="884.5" x2="461.9" y2="877.0" stroke="#000" stroke-width="1.9"/>
<line x1="461.9" y1="329" x2="461.9" y2="337" stroke="#000" stroke-width="1.9"/>
<line x1="481.1" y1="884.5" x2="481.1" y2="869.5" stroke="#000" stroke-width="3.4"/>
<line x1="481.1" y1="329" x2="481.1" y2="344.5" stroke="#000" stroke-width="3.4"/>
<line x1="500.3" y1="884.5" x2="500.3" y2="877.0" stroke="#000" stroke-width="1.9"/>
<line x1="500.3" y1="329" x2="500.3" y2="337" stroke="#000" stroke-width="1.9"/>
<line x1="519.5" y1="884.5" x2="519.5" y2="877.0" stroke="#000" stroke-width="1.9"/>
<line x1="519.5" y1="329" x2="519.5" y2="337" stroke="#000" stroke-width="1.9"/>
<line x1="538.7" y1="884.5" x2="538.7" y2="877.0" stroke="#000" stroke-width="1.9"/>
<line x1="538.7" y1="329" x2="538.7" y2="337" stroke="#000" stroke-width="1.9"/>
<line x1="557.9" y1="884.5" x2="557.9" y2="877.0" stroke="#000" stroke-width="1.9"/>
<line x1="557.9" y1="329" x2="557.9" y2="337" stroke="#000" stroke-width="1.9"/>
<line x1="577.1" y1="884.5" x2="577.1" y2="869.5" stroke="#000" stroke-width="3.4"/>
<line x1="577.1" y1="329" x2="577.1" y2="344.5" stroke="#000" stroke-width="3.4"/>
<line x1="596.3" y1="884.5" x2="596.3" y2="877.0" stroke="#000" stroke-width="1.9"/>
<line x1="596.3" y1="329" x2="596.3" y2="337" stroke="#000" stroke-width="1.9"/>
<line x1="615.5" y1="884.5" x2="615.5" y2="877.0" stroke="#000" stroke-width="1.9"/>
<line x1="615.5" y1="329" x2="615.5" y2="337" stroke="#000" stroke-width="1.9"/>
<line x1="634.8" y1="884.5" x2="634.8" y2="877.0" stroke="#000" stroke-width="1.9"/>
<line x1="634.8" y1="329" x2="634.8" y2="337" stroke="#000" stroke-width="1.9"/>
<line x1="654.0" y1="884.5" x2="654.0" y2="877.0" stroke="#000" stroke-width="1.9"/>
<line x1="654.0" y1="329" x2="654.0" y2="337" stroke="#000" stroke-width="1.9"/>
<line x1="673.2" y1="884.5" x2="673.2" y2="869.5" stroke="#000" stroke-width="3.4"/>
<line x1="673.2" y1="329" x2="673.2" y2="344.5" stroke="#000" stroke-width="3.4"/>
<line x1="692.4" y1="884.5" x2="692.4" y2="877.0" stroke="#000" stroke-width="1.9"/>
<line x1="692.4" y1="329" x2="692.4" y2="337" stroke="#000" stroke-width="1.9"/>
<line x1="711.6" y1="884.5" x2="711.6" y2="877.0" stroke="#000" stroke-width="1.9"/>
<line x1="711.6" y1="329" x2="711.6" y2="337" stroke="#000" stroke-width="1.9"/>
<line x1="730.8" y1="884.5" x2="730.8" y2="877.0" stroke="#000" stroke-width="1.9"/>
<line x1="730.8" y1="329" x2="730.8" y2="337" stroke="#000" stroke-width="1.9"/>
<line x1="750.0" y1="884.5" x2="750.0" y2="877.0" stroke="#000" stroke-width="1.9"/>
<line x1="750.0" y1="329" x2="750.0" y2="337" stroke="#000" stroke-width="1.9"/>
<line x1="769.2" y1="884.5" x2="769.2" y2="869.5" stroke="#000" stroke-width="3.4"/>
<line x1="769.2" y1="329" x2="769.2" y2="344.5" stroke="#000" stroke-width="3.4"/>
<line x1="788.4" y1="884.5" x2="788.4" y2="877.0" stroke="#000" stroke-width="1.9"/>
<line x1="788.4" y1="329" x2="788.4" y2="337" stroke="#000" stroke-width="1.9"/>
<line x1="807.7" y1="884.5" x2="807.7" y2="877.0" stroke="#000" stroke-width="1.9"/>
<line x1="807.7" y1="329" x2="807.7" y2="337" stroke="#000" stroke-width="1.9"/>
<line x1="826.9" y1="884.5" x2="826.9" y2="877.0" stroke="#000" stroke-width="1.9"/>
<line x1="826.9" y1="329" x2="826.9" y2="337" stroke="#000" stroke-width="1.9"/>
<line x1="846.1" y1="884.5" x2="846.1" y2="877.0" stroke="#000" stroke-width="1.9"/>
<line x1="846.1" y1="329" x2="846.1" y2="337" stroke="#000" stroke-width="1.9"/>
<line x1="865.3" y1="884.5" x2="865.3" y2="869.5" stroke="#000" stroke-width="3.4"/>
<line x1="865.3" y1="329" x2="865.3" y2="344.5" stroke="#000" stroke-width="3.4"/>
<line x1="884.5" y1="884.5" x2="884.5" y2="877.0" stroke="#000" stroke-width="1.9"/>
<line x1="884.5" y1="329" x2="884.5" y2="337" stroke="#000" stroke-width="1.9"/>
<line x1="903.7" y1="884.5" x2="903.7" y2="877.0" stroke="#000" stroke-width="1.9"/>
<line x1="903.7" y1="329" x2="903.7" y2="337" stroke="#000" stroke-width="1.9"/>
<line x1="922.9" y1="884.5" x2="922.9" y2="877.0" stroke="#000" stroke-width="1.9"/>
<line x1="922.9" y1="329" x2="922.9" y2="337" stroke="#000" stroke-width="1.9"/>
<line x1="942.1" y1="884.5" x2="942.1" y2="877.0" stroke="#000" stroke-width="1.9"/>
<line x1="942.1" y1="329" x2="942.1" y2="337" stroke="#000" stroke-width="1.9"/>
<line x1="961.3" y1="884.5" x2="961.3" y2="869.5" stroke="#000" stroke-width="3.4"/>
<line x1="961.3" y1="329" x2="961.3" y2="344.5" stroke="#000" stroke-width="3.4"/>
<line x1="980.6" y1="884.5" x2="980.6" y2="877.0" stroke="#000" stroke-width="1.9"/>
<line x1="980.6" y1="329" x2="980.6" y2="337" stroke="#000" stroke-width="1.9"/>
<line x1="999.8" y1="884.5" x2="999.8" y2="877.0" stroke="#000" stroke-width="1.9"/>
<line x1="999.8" y1="329" x2="999.8" y2="337" stroke="#000" stroke-width="1.9"/>
<line x1="1019.0" y1="884.5" x2="1019.0" y2="877.0" stroke="#000" stroke-width="1.9"/>
<line x1="1019.0" y1="329" x2="1019.0" y2="337" stroke="#000" stroke-width="1.9"/>
<line x1="1038.2" y1="884.5" x2="1038.2" y2="877.0" stroke="#000" stroke-width="1.9"/>
<line x1="1038.2" y1="329" x2="1038.2" y2="337" stroke="#000" stroke-width="1.9"/>
<line x1="192.9" y1="873.35" x2="200.8" y2="873.35" stroke="#000" stroke-width="1.8"/>
<line x1="1057.4" y1="873.35" x2="1049.4" y2="873.35" stroke="#000" stroke-width="1.8"/>
<line x1="192.9" y1="862.20" x2="200.8" y2="862.20" stroke="#000" stroke-width="1.8"/>
<line x1="1057.4" y1="862.20" x2="1049.4" y2="862.20" stroke="#000" stroke-width="1.8"/>
<line x1="192.9" y1="851.04" x2="200.8" y2="851.04" stroke="#000" stroke-width="1.8"/>
<line x1="1057.4" y1="851.04" x2="1049.4" y2="851.04" stroke="#000" stroke-width="1.8"/>
<line x1="192.9" y1="839.89" x2="200.8" y2="839.89" stroke="#000" stroke-width="1.8"/>
<line x1="1057.4" y1="839.89" x2="1049.4" y2="839.89" stroke="#000" stroke-width="1.8"/>
<line x1="192.9" y1="828.74" x2="209" y2="828.74" stroke="#000" stroke-width="3.2"/>
<line x1="1057.4" y1="828.74" x2="1042" y2="828.74" stroke="#000" stroke-width="3.2"/>
<line x1="192.9" y1="817.59" x2="200.8" y2="817.59" stroke="#000" stroke-width="1.8"/>
<line x1="1057.4" y1="817.59" x2="1049.4" y2="817.59" stroke="#000" stroke-width="1.8"/>
<line x1="192.9" y1="806.44" x2="200.8" y2="806.44" stroke="#000" stroke-width="1.8"/>
<line x1="1057.4" y1="806.44" x2="1049.4" y2="806.44" stroke="#000" stroke-width="1.8"/>
<line x1="192.9" y1="795.28" x2="200.8" y2="795.28" stroke="#000" stroke-width="1.8"/>
<line x1="1057.4" y1="795.28" x2="1049.4" y2="795.28" stroke="#000" stroke-width="1.8"/>
<line x1="192.9" y1="784.13" x2="200.8" y2="784.13" stroke="#000" stroke-width="1.8"/>
<line x1="1057.4" y1="784.13" x2="1049.4" y2="784.13" stroke="#000" stroke-width="1.8"/>
<line x1="192.9" y1="772.98" x2="209" y2="772.98" stroke="#000" stroke-width="3.2"/>
<line x1="1057.4" y1="772.98" x2="1042" y2="772.98" stroke="#000" stroke-width="3.2"/>
<line x1="192.9" y1="761.83" x2="200.8" y2="761.83" stroke="#000" stroke-width="1.8"/>
<line x1="1057.4" y1="761.83" x2="1049.4" y2="761.83" stroke="#000" stroke-width="1.8"/>
<line x1="192.9" y1="750.68" x2="200.8" y2="750.68" stroke="#000" stroke-width="1.8"/>
<line x1="1057.4" y1="750.68" x2="1049.4" y2="750.68" stroke="#000" stroke-width="1.8"/>
<line x1="192.9" y1="739.52" x2="200.8" y2="739.52" stroke="#000" stroke-width="1.8"/>
<line x1="1057.4" y1="739.52" x2="1049.4" y2="739.52" stroke="#000" stroke-width="1.8"/>
<line x1="192.9" y1="728.37" x2="200.8" y2="728.37" stroke="#000" stroke-width="1.8"/>
<line x1="1057.4" y1="728.37" x2="1049.4" y2="728.37" stroke="#000" stroke-width="1.8"/>
<line x1="192.9" y1="717.22" x2="209" y2="717.22" stroke="#000" stroke-width="3.2"/>
<line x1="1057.4" y1="717.22" x2="1042" y2="717.22" stroke="#000" stroke-width="3.2"/>
<line x1="192.9" y1="706.07" x2="200.8" y2="706.07" stroke="#000" stroke-width="1.8"/>
<line x1="1057.4" y1="706.07" x2="1049.4" y2="706.07" stroke="#000" stroke-width="1.8"/>
<line x1="192.9" y1="694.92" x2="200.8" y2="694.92" stroke="#000" stroke-width="1.8"/>
<line x1="1057.4" y1="694.92" x2="1049.4" y2="694.92" stroke="#000" stroke-width="1.8"/>
<line x1="192.9" y1="683.76" x2="200.8" y2="683.76" stroke="#000" stroke-width="1.8"/>
<line x1="1057.4" y1="683.76" x2="1049.4" y2="683.76" stroke="#000" stroke-width="1.8"/>
<line x1="192.9" y1="672.61" x2="200.8" y2="672.61" stroke="#000" stroke-width="1.8"/>
<line x1="1057.4" y1="672.61" x2="1049.4" y2="672.61" stroke="#000" stroke-width="1.8"/>
<line x1="192.9" y1="661.46" x2="209" y2="661.46" stroke="#000" stroke-width="3.2"/>
<line x1="1057.4" y1="661.46" x2="1042" y2="661.46" stroke="#000" stroke-width="3.2"/>
<line x1="192.9" y1="650.31" x2="200.8" y2="650.31" stroke="#000" stroke-width="1.8"/>
<line x1="1057.4" y1="650.31" x2="1049.4" y2="650.31" stroke="#000" stroke-width="1.8"/>
<line x1="192.9" y1="639.16" x2="200.8" y2="639.16" stroke="#000" stroke-width="1.8"/>
<line x1="1057.4" y1="639.16" x2="1049.4" y2="639.16" stroke="#000" stroke-width="1.8"/>
<line x1="192.9" y1="628.00" x2="200.8" y2="628.00" stroke="#000" stroke-width="1.8"/>
<line x1="1057.4" y1="628.00" x2="1049.4" y2="628.00" stroke="#000" stroke-width="1.8"/>
<line x1="192.9" y1="616.85" x2="200.8" y2="616.85" stroke="#000" stroke-width="1.8"/>
<line x1="1057.4" y1="616.85" x2="1049.4" y2="616.85" stroke="#000" stroke-width="1.8"/>
<line x1="192.9" y1="605.70" x2="209" y2="605.70" stroke="#000" stroke-width="3.2"/>
<line x1="1057.4" y1="605.70" x2="1042" y2="605.70" stroke="#000" stroke-width="3.2"/>
<line x1="192.9" y1="594.55" x2="200.8" y2="594.55" stroke="#000" stroke-width="1.8"/>
<line x1="1057.4" y1="594.55" x2="1049.4" y2="594.55" stroke="#000" stroke-width="1.8"/>
<line x1="192.9" y1="583.40" x2="200.8" y2="583.40" stroke="#000" stroke-width="1.8"/>
<line x1="1057.4" y1="583.40" x2="1049.4" y2="583.40" stroke="#000" stroke-width="1.8"/>
<line x1="192.9" y1="572.24" x2="200.8" y2="572.24" stroke="#000" stroke-width="1.8"/>
<line x1="1057.4" y1="572.24" x2="1049.4" y2="572.24" stroke="#000" stroke-width="1.8"/>
<line x1="192.9" y1="561.09" x2="200.8" y2="561.09" stroke="#000" stroke-width="1.8"/>
<line x1="1057.4" y1="561.09" x2="1049.4" y2="561.09" stroke="#000" stroke-width="1.8"/>
<line x1="192.9" y1="549.94" x2="209" y2="549.94" stroke="#000" stroke-width="3.2"/>
<line x1="1057.4" y1="549.94" x2="1042" y2="549.94" stroke="#000" stroke-width="3.2"/>
<line x1="192.9" y1="538.79" x2="200.8" y2="538.79" stroke="#000" stroke-width="1.8"/>
<line x1="1057.4" y1="538.79" x2="1049.4" y2="538.79" stroke="#000" stroke-width="1.8"/>
<line x1="192.9" y1="527.64" x2="200.8" y2="527.64" stroke="#000" stroke-width="1.8"/>
<line x1="1057.4" y1="527.64" x2="1049.4" y2="527.64" stroke="#000" stroke-width="1.8"/>
<line x1="192.9" y1="516.48" x2="200.8" y2="516.48" stroke="#000" stroke-width="1.8"/>
<line x1="1057.4" y1="516.48" x2="1049.4" y2="516.48" stroke="#000" stroke-width="1.8"/>
<line x1="192.9" y1="505.33" x2="200.8" y2="505.33" stroke="#000" stroke-width="1.8"/>
<line x1="1057.4" y1="505.33" x2="1049.4" y2="505.33" stroke="#000" stroke-width="1.8"/>
<line x1="192.9" y1="494.18" x2="209" y2="494.18" stroke="#000" stroke-width="3.2"/>
<line x1="1057.4" y1="494.18" x2="1042" y2="494.18" stroke="#000" stroke-width="3.2"/>
<line x1="192.9" y1="483.03" x2="200.8" y2="483.03" stroke="#000" stroke-width="1.8"/>
<line x1="1057.4" y1="483.03" x2="1049.4" y2="483.03" stroke="#000" stroke-width="1.8"/>
<line x1="192.9" y1="471.88" x2="200.8" y2="471.88" stroke="#000" stroke-width="1.8"/>
<line x1="1057.4" y1="471.88" x2="1049.4" y2="471.88" stroke="#000" stroke-width="1.8"/>
<line x1="192.9" y1="460.72" x2="200.8" y2="460.72" stroke="#000" stroke-width="1.8"/>
<line x1="1057.4" y1="460.72" x2="1049.4" y2="460.72" stroke="#000" stroke-width="1.8"/>
<line x1="192.9" y1="449.57" x2="200.8" y2="449.57" stroke="#000" stroke-width="1.8"/>
<line x1="1057.4" y1="449.57" x2="1049.4" y2="449.57" stroke="#000" stroke-width="1.8"/>
<line x1="192.9" y1="438.42" x2="209" y2="438.42" stroke="#000" stroke-width="3.2"/>
<line x1="1057.4" y1="438.42" x2="1042" y2="438.42" stroke="#000" stroke-width="3.2"/>
<line x1="192.9" y1="427.27" x2="200.8" y2="427.27" stroke="#000" stroke-width="1.8"/>
<line x1="1057.4" y1="427.27" x2="1049.4" y2="427.27" stroke="#000" stroke-width="1.8"/>
<line x1="192.9" y1="416.12" x2="200.8" y2="416.12" stroke="#000" stroke-width="1.8"/>
<line x1="1057.4" y1="416.12" x2="1049.4" y2="416.12" stroke="#000" stroke-width="1.8"/>
<line x1="192.9" y1="404.96" x2="200.8" y2="404.96" stroke="#000" stroke-width="1.8"/>
<line x1="1057.4" y1="404.96" x2="1049.4" y2="404.96" stroke="#000" stroke-width="1.8"/>
<line x1="192.9" y1="393.81" x2="200.8" y2="393.81" stroke="#000" stroke-width="1.8"/>
<line x1="1057.4" y1="393.81" x2="1049.4" y2="393.81" stroke="#000" stroke-width="1.8"/>
<line x1="192.9" y1="382.66" x2="209" y2="382.66" stroke="#000" stroke-width="3.2"/>
<line x1="1057.4" y1="382.66" x2="1042" y2="382.66" stroke="#000" stroke-width="3.2"/>
<line x1="192.9" y1="371.51" x2="200.8" y2="371.51" stroke="#000" stroke-width="1.8"/>
<line x1="1057.4" y1="371.51" x2="1049.4" y2="371.51" stroke="#000" stroke-width="1.8"/>
<line x1="192.9" y1="360.36" x2="200.8" y2="360.36" stroke="#000" stroke-width="1.8"/>
<line x1="1057.4" y1="360.36" x2="1049.4" y2="360.36" stroke="#000" stroke-width="1.8"/>
<line x1="192.9" y1="349.20" x2="200.8" y2="349.20" stroke="#000" stroke-width="1.8"/>
<line x1="1057.4" y1="349.20" x2="1049.4" y2="349.20" stroke="#000" stroke-width="1.8"/>
<line x1="192.9" y1="338.05" x2="200.8" y2="338.05" stroke="#000" stroke-width="1.8"/>
<line x1="1057.4" y1="338.05" x2="1049.4" y2="338.05" stroke="#000" stroke-width="1.8"/>
<line x1="192.9" y1="326.90" x2="209" y2="326.90" stroke="#000" stroke-width="3.2"/>
<line x1="1057.4" y1="326.90" x2="1042" y2="326.90" stroke="#000" stroke-width="3.2"/>
<text transform="translate(160.4,894.9) scale(0.955,1)" text-anchor="end" class="tl">0</text>
<text transform="translate(167.4,839.0) scale(0.955,1)" text-anchor="end" class="tl">1000</text>
<text transform="translate(167.4,783.3) scale(0.955,1)" text-anchor="end" class="tl">2000</text>
<text transform="translate(167.4,727.5) scale(0.955,1)" text-anchor="end" class="tl">3000</text>
<text transform="translate(167.4,671.8) scale(0.955,1)" text-anchor="end" class="tl">4000</text>
<text transform="translate(167.4,616.0) scale(0.955,1)" text-anchor="end" class="tl">5000</text>
<text transform="translate(167.4,560.2) scale(0.955,1)" text-anchor="end" class="tl">6000</text>
<text transform="translate(167.4,504.5) scale(0.955,1)" text-anchor="end" class="tl">7000</text>
<text transform="translate(167.4,448.7) scale(0.955,1)" text-anchor="end" class="tl">8000</text>
<text transform="translate(167.4,393.0) scale(0.955,1)" text-anchor="end" class="tl">9000</text>
<text transform="translate(167.4,337.2) scale(0.955,1)" text-anchor="end" class="tl">10000</text>
<text transform="translate(191.0,925) scale(0.955,1)" text-anchor="middle" class="tl">37</text>
<text transform="translate(287.1,925) scale(0.955,1)" text-anchor="middle" class="tl">39</text>
<text transform="translate(383.1,925) scale(0.955,1)" text-anchor="middle" class="tl">41</text>
<text transform="translate(479.2,925) scale(0.955,1)" text-anchor="middle" class="tl">43</text>
<text transform="translate(575.2,925) scale(0.955,1)" text-anchor="middle" class="tl">45</text>
<text transform="translate(671.3,925) scale(0.955,1)" text-anchor="middle" class="tl">47</text>
<text transform="translate(767.3,925) scale(0.955,1)" text-anchor="middle" class="tl">49</text>
<text transform="translate(863.4,925) scale(0.955,1)" text-anchor="middle" class="tl">51</text>
<text transform="translate(959.4,925) scale(0.955,1)" text-anchor="middle" class="tl">53</text>
<text x="233.6" y="374.8" font-family="Liberation Sans" font-size="33.8" fill="#111">(d)</text>
<text transform="translate(909,410) scale(0.94,1)" class="lg" fill="#1414cc">650 5h</text>
<text transform="translate(909,437.5) scale(0.94,1)" class="lg" fill="#dc1430">700 5h</text>
<text transform="translate(909,470.8) scale(0.94,1)" class="lg" fill="#1a6c28">750 5h</text>
<text transform="translate(84,735.5) rotate(-90)" class="yl" letter-spacing="-2.3">Intensity (arb. units)</text>
<text x="1017.8" y="931.8" font-family="Liberation Sans" font-size="31.5" fill="#111">2</text>
<text x="1042" y="932" font-family="Liberation Serif" font-size="31" fill="#111">θ</text>
<text x="1061" y="929.3" font-family="Liberation Serif" font-size="30" fill="#111">(</text>
<text x="1071.2" y="918.2" font-family="Liberation Serif" font-size="18.5" fill="#111">o</text>
<text x="1080.6" y="929.3" font-family="Liberation Serif" font-size="30" fill="#111">)</text>
</svg>
</body></html>
